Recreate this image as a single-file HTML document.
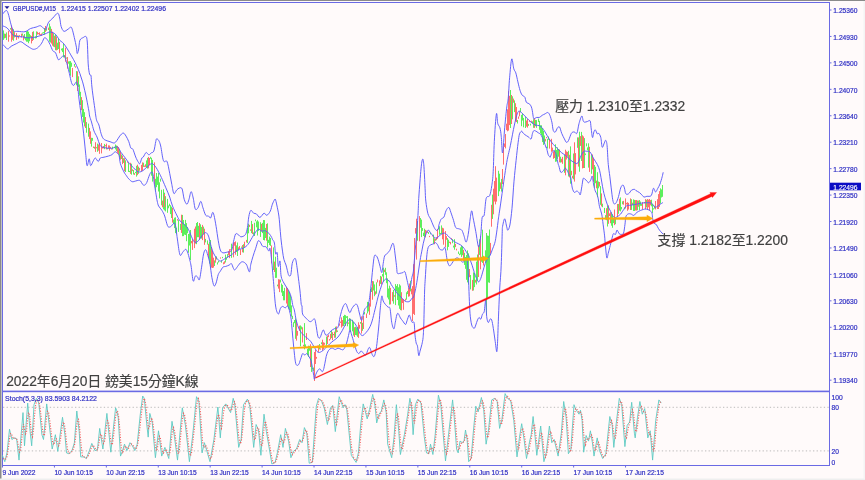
<!DOCTYPE html>
<html><head><meta charset="utf-8"><title>GBPUSD M15</title>
<style>html,body{margin:0;padding:0;background:#fffafa;}svg{display:block;}</style>
</head><body><svg width="865" height="480" viewBox="0 0 865 480"><style>.ax{font-family:"Liberation Sans",sans-serif;font-size:7.8px;fill:#3030c4;stroke:#3030c4;stroke-width:0.22px}</style><rect x="0" y="0" width="865" height="480" fill="#fffafa"/><rect x="0" y="0" width="865" height="1" fill="#8a8a8a"/><rect x="0" y="0" width="1.5" height="479" fill="#8a8a8a"/><rect x="0" y="478.5" width="865" height="1.5" fill="#efefef"/><rect x="863.5" y="1" width="1.5" height="478" fill="#f4f4f4"/><g><rect x="3" y="30.4" width="1" height="9.5" fill="#5cef5c"/><rect x="4" y="33.6" width="1" height="4.8" fill="#5cef5c"/><rect x="5" y="33.8" width="1" height="4.1" fill="#ff6e6e"/><rect x="6" y="32.4" width="1" height="7.6" fill="#5cef5c"/><rect x="8" y="30.8" width="1" height="10.9" fill="#ff6e6e"/><rect x="9" y="35.4" width="1" height="1.2" fill="#ff6e6e"/><rect x="10" y="28.0" width="1" height="1.6" fill="#5cef5c"/><rect x="11" y="26.8" width="1" height="14.2" fill="#5cef5c"/><rect x="12" y="28.6" width="1" height="11.2" fill="#ff6e6e"/><rect x="13" y="29.2" width="1" height="11.6" fill="#5cef5c"/><rect x="14" y="32.1" width="1" height="5.4" fill="#ff6e6e"/><rect x="15" y="35.1" width="1" height="1.7" fill="#5cef5c"/><rect x="16" y="33.1" width="1" height="6.8" fill="#ff6e6e"/><rect x="17" y="35.4" width="1" height="1.9" fill="#5cef5c"/><rect x="18" y="35.5" width="1" height="3.1" fill="#ff6e6e"/><rect x="19" y="35.1" width="1" height="1.2" fill="#ff6e6e"/><rect x="21" y="33.7" width="1" height="3.8" fill="#ff6e6e"/><rect x="22" y="33.5" width="1" height="2.2" fill="#5cef5c"/><rect x="23" y="35.5" width="1" height="4.9" fill="#ff6e6e"/><rect x="24" y="34.0" width="1" height="4.6" fill="#5cef5c"/><rect x="25" y="37.3" width="1" height="3.0" fill="#5cef5c"/><rect x="26" y="31.3" width="1" height="10.4" fill="#5cef5c"/><rect x="27" y="31.0" width="1" height="10.7" fill="#5cef5c"/><rect x="28" y="31.7" width="1" height="11.5" fill="#5cef5c"/><rect x="29" y="33.9" width="1" height="7.3" fill="#5cef5c"/><rect x="30" y="35.3" width="1" height="2.4" fill="#5cef5c"/><rect x="31" y="35.9" width="1" height="7.5" fill="#ff6e6e"/><rect x="32" y="31.9" width="1" height="9.1" fill="#ff6e6e"/><rect x="33" y="31.3" width="1" height="8.6" fill="#5cef5c"/><rect x="35" y="36.6" width="1" height="1.8" fill="#5cef5c"/><rect x="36" y="31.4" width="1" height="6.8" fill="#5cef5c"/><rect x="37" y="31.8" width="1" height="2.8" fill="#ff6e6e"/><rect x="38" y="33.0" width="1" height="1.2" fill="#ff6e6e"/><rect x="39" y="32.3" width="1" height="2.7" fill="#ff6e6e"/><rect x="40" y="34.2" width="1" height="1.2" fill="#ff6e6e"/><rect x="41" y="33.5" width="1" height="2.3" fill="#ff6e6e"/><rect x="42" y="32.5" width="1" height="1.2" fill="#5cef5c"/><rect x="43" y="32.1" width="1" height="1.2" fill="#5cef5c"/><rect x="44" y="28.0" width="1" height="6.7" fill="#5cef5c"/><rect x="45" y="26.0" width="1" height="5.9" fill="#ff6e6e"/><rect x="46" y="28.3" width="1" height="2.4" fill="#5cef5c"/><rect x="48" y="27.6" width="1" height="2.4" fill="#ff6e6e"/><rect x="49" y="24.4" width="1" height="4.9" fill="#ff6e6e"/><rect x="50" y="26.4" width="1" height="16.1" fill="#5cef5c"/><rect x="51" y="28.9" width="1" height="14.7" fill="#ff6e6e"/><rect x="52" y="31.7" width="1" height="14.0" fill="#ff6e6e"/><rect x="53" y="33.3" width="1" height="13.3" fill="#5cef5c"/><rect x="54" y="35.7" width="1" height="11.5" fill="#ff6e6e"/><rect x="55" y="34.2" width="1" height="16.0" fill="#5cef5c"/><rect x="56" y="36.5" width="1" height="13.9" fill="#ff6e6e"/><rect x="57" y="42.7" width="1" height="7.2" fill="#5cef5c"/><rect x="58" y="38.4" width="1" height="10.6" fill="#5cef5c"/><rect x="59" y="41.8" width="1" height="11.4" fill="#ff6e6e"/><rect x="61" y="48.6" width="1" height="1.8" fill="#5cef5c"/><rect x="62" y="48.2" width="1" height="3.9" fill="#5cef5c"/><rect x="63" y="43.4" width="1" height="14.0" fill="#5cef5c"/><rect x="64" y="55.1" width="1" height="2.2" fill="#5cef5c"/><rect x="65" y="47.7" width="1" height="14.0" fill="#ff6e6e"/><rect x="66" y="57.5" width="1" height="1.2" fill="#5cef5c"/><rect x="67" y="57.0" width="1" height="11.6" fill="#ff6e6e"/><rect x="68" y="61.4" width="1" height="2.3" fill="#5cef5c"/><rect x="69" y="61.2" width="1" height="11.2" fill="#5cef5c"/><rect x="70" y="61.1" width="1" height="14.6" fill="#5cef5c"/><rect x="71" y="62.7" width="1" height="4.1" fill="#5cef5c"/><rect x="72" y="68.0" width="1" height="9.1" fill="#ff6e6e"/><rect x="74" y="64.0" width="1" height="2.6" fill="#5cef5c"/><rect x="75" y="66.3" width="1" height="1.4" fill="#ff6e6e"/><rect x="76" y="71.1" width="1" height="14.2" fill="#5cef5c"/><rect x="77" y="71.3" width="1" height="19.7" fill="#ff6e6e"/><rect x="78" y="76.3" width="1" height="10.6" fill="#5cef5c"/><rect x="79" y="84.5" width="1" height="11.1" fill="#5cef5c"/><rect x="80" y="91.8" width="1" height="13.2" fill="#5cef5c"/><rect x="81" y="97.1" width="1" height="13.2" fill="#ff6e6e"/><rect x="82" y="100.2" width="1" height="16.7" fill="#5cef5c"/><rect x="83" y="108.9" width="1" height="13.6" fill="#5cef5c"/><rect x="84" y="112.2" width="1" height="14.2" fill="#5cef5c"/><rect x="85" y="117.0" width="1" height="11.0" fill="#ff6e6e"/><rect x="86" y="122.1" width="1" height="10.6" fill="#5cef5c"/><rect x="88" y="123.6" width="1" height="13.1" fill="#5cef5c"/><rect x="89" y="127.9" width="1" height="11.2" fill="#ff6e6e"/><rect x="90" y="131.4" width="1" height="12.4" fill="#ff6e6e"/><rect x="91" y="137.8" width="1" height="8.8" fill="#5cef5c"/><rect x="92" y="137.9" width="1" height="2.9" fill="#5cef5c"/><rect x="93" y="146.5" width="1" height="1.5" fill="#ff6e6e"/><rect x="94" y="146.8" width="1" height="1.9" fill="#5cef5c"/><rect x="95" y="142.2" width="1" height="9.7" fill="#ff6e6e"/><rect x="96" y="147.1" width="1" height="1.2" fill="#ff6e6e"/><rect x="97" y="143.6" width="1" height="8.2" fill="#5cef5c"/><rect x="98" y="144.4" width="1" height="6.3" fill="#ff6e6e"/><rect x="99" y="142.9" width="1" height="10.9" fill="#ff6e6e"/><rect x="101" y="143.0" width="1" height="10.4" fill="#ff6e6e"/><rect x="102" y="146.8" width="1" height="1.7" fill="#ff6e6e"/><rect x="103" y="146.0" width="1" height="2.4" fill="#ff6e6e"/><rect x="104" y="143.9" width="1" height="5.3" fill="#5cef5c"/><rect x="105" y="145.1" width="1" height="1.2" fill="#ff6e6e"/><rect x="106" y="143.6" width="1" height="5.8" fill="#ff6e6e"/><rect x="107" y="148.1" width="1" height="1.2" fill="#5cef5c"/><rect x="108" y="145.3" width="1" height="3.2" fill="#ff6e6e"/><rect x="109" y="145.5" width="1" height="5.2" fill="#ff6e6e"/><rect x="110" y="146.9" width="1" height="1.2" fill="#ff6e6e"/><rect x="111" y="148.4" width="1" height="1.2" fill="#ff6e6e"/><rect x="112" y="146.6" width="1" height="2.8" fill="#5cef5c"/><rect x="114" y="146.9" width="1" height="1.2" fill="#5cef5c"/><rect x="115" y="144.5" width="1" height="4.9" fill="#5cef5c"/><rect x="116" y="145.5" width="1" height="5.7" fill="#5cef5c"/><rect x="117" y="145.9" width="1" height="6.9" fill="#ff6e6e"/><rect x="118" y="147.0" width="1" height="7.5" fill="#ff6e6e"/><rect x="119" y="149.2" width="1" height="8.0" fill="#5cef5c"/><rect x="120" y="151.7" width="1" height="8.0" fill="#ff6e6e"/><rect x="121" y="154.5" width="1" height="4.5" fill="#5cef5c"/><rect x="122" y="155.6" width="1" height="8.5" fill="#ff6e6e"/><rect x="123" y="158.2" width="1" height="4.7" fill="#5cef5c"/><rect x="124" y="158.2" width="1" height="13.0" fill="#ff6e6e"/><rect x="125" y="160.3" width="1" height="11.7" fill="#5cef5c"/><rect x="127" y="161.5" width="1" height="1.2" fill="#ff6e6e"/><rect x="128" y="163.1" width="1" height="8.8" fill="#5cef5c"/><rect x="129" y="170.9" width="1" height="1.2" fill="#5cef5c"/><rect x="130" y="162.8" width="1" height="11.1" fill="#ff6e6e"/><rect x="131" y="163.7" width="1" height="11.0" fill="#5cef5c"/><rect x="132" y="169.3" width="1" height="1.8" fill="#ff6e6e"/><rect x="133" y="170.0" width="1" height="4.5" fill="#5cef5c"/><rect x="134" y="173.1" width="1" height="1.8" fill="#ff6e6e"/><rect x="135" y="171.9" width="1" height="1.2" fill="#5cef5c"/><rect x="136" y="165.8" width="1" height="10.8" fill="#5cef5c"/><rect x="137" y="164.7" width="1" height="10.5" fill="#ff6e6e"/><rect x="138" y="166.6" width="1" height="7.2" fill="#5cef5c"/><rect x="139" y="167.9" width="1" height="2.8" fill="#ff6e6e"/><rect x="141" y="164.9" width="1" height="6.4" fill="#ff6e6e"/><rect x="142" y="162.4" width="1" height="8.3" fill="#ff6e6e"/><rect x="143" y="162.7" width="1" height="4.2" fill="#5cef5c"/><rect x="144" y="165.6" width="1" height="1.3" fill="#ff6e6e"/><rect x="145" y="164.3" width="1" height="2.6" fill="#ff6e6e"/><rect x="146" y="160.4" width="1" height="7.3" fill="#5cef5c"/><rect x="147" y="157.9" width="1" height="10.7" fill="#5cef5c"/><rect x="148" y="156.9" width="1" height="11.4" fill="#ff6e6e"/><rect x="149" y="158.0" width="1" height="6.9" fill="#ff6e6e"/><rect x="150" y="156.8" width="1" height="2.0" fill="#5cef5c"/><rect x="151" y="157.8" width="1" height="17.9" fill="#5cef5c"/><rect x="152" y="159.9" width="1" height="21.7" fill="#5cef5c"/><rect x="154" y="162.3" width="1" height="22.5" fill="#ff6e6e"/><rect x="155" y="178.8" width="1" height="11.7" fill="#5cef5c"/><rect x="156" y="173.0" width="1" height="14.2" fill="#5cef5c"/><rect x="157" y="176.6" width="1" height="8.3" fill="#5cef5c"/><rect x="158" y="173.0" width="1" height="18.5" fill="#5cef5c"/><rect x="159" y="182.3" width="1" height="16.1" fill="#5cef5c"/><rect x="160" y="178.7" width="1" height="2.9" fill="#5cef5c"/><rect x="161" y="189.8" width="1" height="15.5" fill="#5cef5c"/><rect x="162" y="200.6" width="1" height="6.7" fill="#ff6e6e"/><rect x="163" y="189.2" width="1" height="20.1" fill="#5cef5c"/><rect x="164" y="192.7" width="1" height="17.7" fill="#5cef5c"/><rect x="165" y="196.2" width="1" height="15.2" fill="#5cef5c"/><rect x="167" y="198.9" width="1" height="13.9" fill="#5cef5c"/><rect x="168" y="205.5" width="1" height="2.8" fill="#5cef5c"/><rect x="169" y="203.7" width="1" height="2.5" fill="#5cef5c"/><rect x="170" y="205.2" width="1" height="8.9" fill="#5cef5c"/><rect x="171" y="206.7" width="1" height="11.3" fill="#5cef5c"/><rect x="172" y="207.9" width="1" height="14.7" fill="#ff6e6e"/><rect x="173" y="219.5" width="1" height="4.5" fill="#5cef5c"/><rect x="174" y="217.7" width="1" height="10.4" fill="#5cef5c"/><rect x="175" y="217.3" width="1" height="15.8" fill="#5cef5c"/><rect x="176" y="227.7" width="1" height="6.5" fill="#5cef5c"/><rect x="177" y="219.1" width="1" height="1.5" fill="#ff6e6e"/><rect x="178" y="220.1" width="1" height="11.8" fill="#5cef5c"/><rect x="180" y="223.9" width="1" height="6.0" fill="#5cef5c"/><rect x="181" y="214.7" width="1" height="18.2" fill="#ff6e6e"/><rect x="182" y="214.9" width="1" height="21.3" fill="#5cef5c"/><rect x="183" y="220.0" width="1" height="16.1" fill="#5cef5c"/><rect x="184" y="224.6" width="1" height="10.0" fill="#5cef5c"/><rect x="185" y="219.9" width="1" height="15.1" fill="#5cef5c"/><rect x="186" y="223.1" width="1" height="18.1" fill="#5cef5c"/><rect x="187" y="226.9" width="1" height="6.3" fill="#5cef5c"/><rect x="188" y="234.0" width="1" height="18.7" fill="#5cef5c"/><rect x="189" y="233.3" width="1" height="12.2" fill="#5cef5c"/><rect x="190" y="249.5" width="1" height="3.5" fill="#ff6e6e"/><rect x="191" y="241.0" width="1" height="2.3" fill="#ff6e6e"/><rect x="192" y="239.1" width="1" height="10.8" fill="#ff6e6e"/><rect x="194" y="228.7" width="1" height="19.4" fill="#ff6e6e"/><rect x="195" y="226.5" width="1" height="17.2" fill="#ff6e6e"/><rect x="196" y="223.0" width="1" height="21.2" fill="#5cef5c"/><rect x="197" y="222.0" width="1" height="15.2" fill="#5cef5c"/><rect x="198" y="225.8" width="1" height="11.4" fill="#5cef5c"/><rect x="199" y="223.0" width="1" height="16.6" fill="#ff6e6e"/><rect x="200" y="224.3" width="1" height="14.0" fill="#5cef5c"/><rect x="201" y="226.9" width="1" height="11.7" fill="#5cef5c"/><rect x="202" y="224.9" width="1" height="15.2" fill="#ff6e6e"/><rect x="203" y="226.6" width="1" height="7.9" fill="#5cef5c"/><rect x="204" y="228.7" width="1" height="16.1" fill="#ff6e6e"/><rect x="205" y="238.9" width="1" height="3.5" fill="#5cef5c"/><rect x="207" y="240.4" width="1" height="4.2" fill="#5cef5c"/><rect x="208" y="243.8" width="1" height="14.4" fill="#ff6e6e"/><rect x="209" y="241.8" width="1" height="21.9" fill="#5cef5c"/><rect x="210" y="240.0" width="1" height="28.0" fill="#5cef5c"/><rect x="211" y="247.0" width="1" height="20.6" fill="#ff6e6e"/><rect x="212" y="250.8" width="1" height="17.2" fill="#ff6e6e"/><rect x="213" y="257.7" width="1" height="9.9" fill="#ff6e6e"/><rect x="214" y="260.4" width="1" height="5.6" fill="#5cef5c"/><rect x="215" y="257.1" width="1" height="5.6" fill="#ff6e6e"/><rect x="216" y="256.4" width="1" height="3.1" fill="#5cef5c"/><rect x="217" y="262.3" width="1" height="2.2" fill="#5cef5c"/><rect x="218" y="260.8" width="1" height="1.7" fill="#5cef5c"/><rect x="220" y="257.4" width="1" height="1.2" fill="#ff6e6e"/><rect x="221" y="260.3" width="1" height="2.4" fill="#5cef5c"/><rect x="222" y="256.9" width="1" height="1.3" fill="#5cef5c"/><rect x="223" y="262.3" width="1" height="2.0" fill="#ff6e6e"/><rect x="224" y="261.2" width="1" height="2.6" fill="#ff6e6e"/><rect x="225" y="254.6" width="1" height="7.9" fill="#5cef5c"/><rect x="226" y="257.9" width="1" height="1.9" fill="#5cef5c"/><rect x="227" y="254.1" width="1" height="3.7" fill="#5cef5c"/><rect x="228" y="251.1" width="1" height="4.2" fill="#ff6e6e"/><rect x="229" y="249.2" width="1" height="8.9" fill="#ff6e6e"/><rect x="230" y="249.3" width="1" height="1.2" fill="#ff6e6e"/><rect x="231" y="243.7" width="1" height="14.1" fill="#5cef5c"/><rect x="233" y="242.9" width="1" height="14.4" fill="#ff6e6e"/><rect x="234" y="242.1" width="1" height="3.6" fill="#ff6e6e"/><rect x="235" y="241.4" width="1" height="13.3" fill="#ff6e6e"/><rect x="236" y="245.4" width="1" height="6.6" fill="#5cef5c"/><rect x="237" y="242.5" width="1" height="13.5" fill="#5cef5c"/><rect x="238" y="247.3" width="1" height="3.1" fill="#ff6e6e"/><rect x="239" y="246.0" width="1" height="3.0" fill="#ff6e6e"/><rect x="240" y="249.5" width="1" height="5.5" fill="#ff6e6e"/><rect x="241" y="246.6" width="1" height="1.2" fill="#5cef5c"/><rect x="242" y="245.0" width="1" height="7.3" fill="#ff6e6e"/><rect x="243" y="244.2" width="1" height="8.4" fill="#5cef5c"/><rect x="244" y="241.7" width="1" height="5.2" fill="#ff6e6e"/><rect x="246" y="239.9" width="1" height="2.6" fill="#ff6e6e"/><rect x="247" y="228.0" width="1" height="15.1" fill="#5cef5c"/><rect x="248" y="223.8" width="1" height="9.5" fill="#5cef5c"/><rect x="249" y="224.8" width="1" height="2.1" fill="#ff6e6e"/><rect x="250" y="229.4" width="1" height="1.4" fill="#ff6e6e"/><rect x="251" y="220.9" width="1" height="12.2" fill="#5cef5c"/><rect x="252" y="224.1" width="1" height="9.9" fill="#ff6e6e"/><rect x="253" y="232.4" width="1" height="2.3" fill="#5cef5c"/><rect x="254" y="222.8" width="1" height="13.2" fill="#5cef5c"/><rect x="255" y="219.5" width="1" height="1.7" fill="#5cef5c"/><rect x="256" y="221.4" width="1" height="5.9" fill="#5cef5c"/><rect x="257" y="220.2" width="1" height="15.3" fill="#5cef5c"/><rect x="258" y="221.5" width="1" height="9.4" fill="#5cef5c"/><rect x="260" y="222.2" width="1" height="14.7" fill="#5cef5c"/><rect x="261" y="223.9" width="1" height="7.6" fill="#ff6e6e"/><rect x="262" y="222.9" width="1" height="10.2" fill="#5cef5c"/><rect x="263" y="220.0" width="1" height="20.0" fill="#5cef5c"/><rect x="264" y="220.1" width="1" height="20.3" fill="#5cef5c"/><rect x="265" y="227.9" width="1" height="10.1" fill="#5cef5c"/><rect x="266" y="224.0" width="1" height="16.7" fill="#ff6e6e"/><rect x="267" y="223.3" width="1" height="24.2" fill="#5cef5c"/><rect x="268" y="239.8" width="1" height="3.1" fill="#5cef5c"/><rect x="269" y="236.6" width="1" height="8.5" fill="#5cef5c"/><rect x="270" y="237.9" width="1" height="8.0" fill="#5cef5c"/><rect x="271" y="245.4" width="1" height="18.0" fill="#ff6e6e"/><rect x="273" y="247.4" width="1" height="22.6" fill="#5cef5c"/><rect x="274" y="261.6" width="1" height="10.4" fill="#ff6e6e"/><rect x="275" y="256.7" width="1" height="21.2" fill="#5cef5c"/><rect x="276" y="267.7" width="1" height="10.1" fill="#5cef5c"/><rect x="277" y="284.6" width="1" height="1.7" fill="#5cef5c"/><rect x="278" y="279.2" width="1" height="9.4" fill="#ff6e6e"/><rect x="279" y="279.5" width="1" height="12.6" fill="#ff6e6e"/><rect x="280" y="279.6" width="1" height="2.9" fill="#5cef5c"/><rect x="281" y="283.5" width="1" height="9.0" fill="#5cef5c"/><rect x="282" y="284.9" width="1" height="11.1" fill="#5cef5c"/><rect x="283" y="291.0" width="1" height="9.3" fill="#5cef5c"/><rect x="284" y="287.8" width="1" height="12.5" fill="#5cef5c"/><rect x="286" y="286.8" width="1" height="16.7" fill="#ff6e6e"/><rect x="287" y="288.0" width="1" height="18.2" fill="#ff6e6e"/><rect x="288" y="290.2" width="1" height="18.4" fill="#5cef5c"/><rect x="289" y="292.5" width="1" height="17.7" fill="#5cef5c"/><rect x="290" y="295.4" width="1" height="17.0" fill="#5cef5c"/><rect x="291" y="305.4" width="1" height="11.2" fill="#5cef5c"/><rect x="292" y="315.8" width="1" height="3.3" fill="#5cef5c"/><rect x="293" y="322.2" width="1" height="4.9" fill="#5cef5c"/><rect x="294" y="320.0" width="1" height="3.2" fill="#5cef5c"/><rect x="295" y="318.3" width="1" height="20.5" fill="#5cef5c"/><rect x="296" y="320.5" width="1" height="20.1" fill="#ff6e6e"/><rect x="297" y="330.9" width="1" height="4.8" fill="#ff6e6e"/><rect x="299" y="325.7" width="1" height="5.1" fill="#ff6e6e"/><rect x="300" y="325.4" width="1" height="20.9" fill="#5cef5c"/><rect x="301" y="326.5" width="1" height="2.9" fill="#5cef5c"/><rect x="302" y="327.3" width="1" height="15.2" fill="#ff6e6e"/><rect x="303" y="344.8" width="1" height="1.5" fill="#ff6e6e"/><rect x="304" y="323.1" width="1" height="26.2" fill="#5cef5c"/><rect x="305" y="344.4" width="1" height="3.6" fill="#5cef5c"/><rect x="306" y="333.1" width="1" height="6.9" fill="#ff6e6e"/><rect x="307" y="348.8" width="1" height="6.5" fill="#5cef5c"/><rect x="308" y="345.7" width="1" height="11.2" fill="#5cef5c"/><rect x="309" y="345.9" width="1" height="4.8" fill="#5cef5c"/><rect x="310" y="344.2" width="1" height="22.8" fill="#ff6e6e"/><rect x="311" y="347.9" width="1" height="24.0" fill="#5cef5c"/><rect x="313" y="367.5" width="1" height="3.4" fill="#5cef5c"/><rect x="314" y="364.3" width="1" height="2.6" fill="#5cef5c"/><rect x="315" y="350.0" width="1" height="14.0" fill="#ff6e6e"/><rect x="316" y="356.9" width="1" height="1.8" fill="#ff6e6e"/><rect x="317" y="345.6" width="1" height="2.4" fill="#ff6e6e"/><rect x="318" y="345.4" width="1" height="6.5" fill="#ff6e6e"/><rect x="319" y="344.0" width="1" height="5.4" fill="#5cef5c"/><rect x="320" y="348.4" width="1" height="1.2" fill="#ff6e6e"/><rect x="321" y="342.3" width="1" height="1.9" fill="#5cef5c"/><rect x="322" y="339.7" width="1" height="10.7" fill="#ff6e6e"/><rect x="323" y="342.3" width="1" height="6.9" fill="#ff6e6e"/><rect x="324" y="342.8" width="1" height="2.0" fill="#ff6e6e"/><rect x="326" y="336.6" width="1" height="9.1" fill="#5cef5c"/><rect x="327" y="335.7" width="1" height="8.3" fill="#ff6e6e"/><rect x="328" y="334.6" width="1" height="2.5" fill="#ff6e6e"/><rect x="329" y="339.0" width="1" height="1.6" fill="#ff6e6e"/><rect x="330" y="333.8" width="1" height="5.6" fill="#ff6e6e"/><rect x="331" y="330.7" width="1" height="7.4" fill="#5cef5c"/><rect x="332" y="332.2" width="1" height="8.0" fill="#ff6e6e"/><rect x="333" y="334.0" width="1" height="1.2" fill="#5cef5c"/><rect x="334" y="331.7" width="1" height="6.1" fill="#ff6e6e"/><rect x="335" y="326.7" width="1" height="11.0" fill="#5cef5c"/><rect x="336" y="326.4" width="1" height="6.0" fill="#ff6e6e"/><rect x="337" y="330.5" width="1" height="1.4" fill="#5cef5c"/><rect x="339" y="323.5" width="1" height="2.2" fill="#ff6e6e"/><rect x="340" y="321.6" width="1" height="1.3" fill="#ff6e6e"/><rect x="341" y="317.4" width="1" height="10.2" fill="#ff6e6e"/><rect x="342" y="320.0" width="1" height="6.3" fill="#ff6e6e"/><rect x="343" y="316.0" width="1" height="10.0" fill="#5cef5c"/><rect x="344" y="314.8" width="1" height="9.5" fill="#5cef5c"/><rect x="345" y="315.2" width="1" height="10.8" fill="#5cef5c"/><rect x="346" y="316.3" width="1" height="1.6" fill="#5cef5c"/><rect x="347" y="316.1" width="1" height="10.2" fill="#5cef5c"/><rect x="348" y="322.5" width="1" height="1.3" fill="#ff6e6e"/><rect x="349" y="318.1" width="1" height="11.8" fill="#5cef5c"/><rect x="350" y="318.7" width="1" height="13.4" fill="#5cef5c"/><rect x="352" y="319.8" width="1" height="11.5" fill="#5cef5c"/><rect x="353" y="321.6" width="1" height="13.9" fill="#5cef5c"/><rect x="354" y="327.2" width="1" height="9.8" fill="#ff6e6e"/><rect x="355" y="326.7" width="1" height="8.3" fill="#5cef5c"/><rect x="356" y="327.4" width="1" height="8.0" fill="#5cef5c"/><rect x="357" y="327.2" width="1" height="9.6" fill="#5cef5c"/><rect x="358" y="322.3" width="1" height="15.6" fill="#ff6e6e"/><rect x="359" y="324.8" width="1" height="3.9" fill="#ff6e6e"/><rect x="360" y="322.0" width="1" height="1.7" fill="#5cef5c"/><rect x="361" y="316.4" width="1" height="17.1" fill="#ff6e6e"/><rect x="362" y="322.8" width="1" height="8.0" fill="#5cef5c"/><rect x="363" y="316.1" width="1" height="12.9" fill="#ff6e6e"/><rect x="364" y="312.0" width="1" height="2.4" fill="#5cef5c"/><rect x="366" y="313.5" width="1" height="4.5" fill="#ff6e6e"/><rect x="367" y="301.9" width="1" height="11.5" fill="#5cef5c"/><rect x="368" y="301.9" width="1" height="9.5" fill="#5cef5c"/><rect x="369" y="303.3" width="1" height="11.5" fill="#ff6e6e"/><rect x="370" y="288.8" width="1" height="17.8" fill="#ff6e6e"/><rect x="371" y="287.4" width="1" height="4.6" fill="#5cef5c"/><rect x="372" y="281.0" width="1" height="18.7" fill="#ff6e6e"/><rect x="373" y="281.3" width="1" height="9.2" fill="#5cef5c"/><rect x="374" y="284.4" width="1" height="11.8" fill="#5cef5c"/><rect x="375" y="291.4" width="1" height="3.2" fill="#ff6e6e"/><rect x="376" y="282.3" width="1" height="11.4" fill="#5cef5c"/><rect x="377" y="279.5" width="1" height="2.9" fill="#ff6e6e"/><rect x="379" y="280.3" width="1" height="5.8" fill="#ff6e6e"/><rect x="380" y="275.9" width="1" height="8.0" fill="#5cef5c"/><rect x="381" y="276.6" width="1" height="7.9" fill="#ff6e6e"/><rect x="382" y="274.1" width="1" height="2.4" fill="#5cef5c"/><rect x="383" y="267.6" width="1" height="14.3" fill="#5cef5c"/><rect x="384" y="269.6" width="1" height="2.5" fill="#ff6e6e"/><rect x="385" y="267.8" width="1" height="7.0" fill="#5cef5c"/><rect x="386" y="272.3" width="1" height="10.9" fill="#5cef5c"/><rect x="387" y="278.4" width="1" height="19.1" fill="#5cef5c"/><rect x="388" y="288.5" width="1" height="10.9" fill="#5cef5c"/><rect x="389" y="285.7" width="1" height="18.9" fill="#5cef5c"/><rect x="390" y="287.9" width="1" height="16.5" fill="#ff6e6e"/><rect x="392" y="292.1" width="1" height="9.1" fill="#ff6e6e"/><rect x="393" y="289.9" width="1" height="13.8" fill="#5cef5c"/><rect x="394" y="295.2" width="1" height="1.5" fill="#ff6e6e"/><rect x="395" y="284.1" width="1" height="21.0" fill="#5cef5c"/><rect x="396" y="285.9" width="1" height="5.4" fill="#5cef5c"/><rect x="397" y="284.1" width="1" height="15.9" fill="#5cef5c"/><rect x="398" y="287.3" width="1" height="18.2" fill="#5cef5c"/><rect x="399" y="284.3" width="1" height="24.5" fill="#5cef5c"/><rect x="400" y="285.5" width="1" height="24.6" fill="#5cef5c"/><rect x="401" y="292.2" width="1" height="18.2" fill="#ff6e6e"/><rect x="402" y="298.8" width="1" height="4.2" fill="#ff6e6e"/><rect x="403" y="299.4" width="1" height="10.4" fill="#ff6e6e"/><rect x="405" y="298.7" width="1" height="1.9" fill="#ff6e6e"/><rect x="406" y="292.3" width="1" height="7.3" fill="#5cef5c"/><rect x="407" y="290.9" width="1" height="3.2" fill="#5cef5c"/><rect x="408" y="287.4" width="1" height="9.3" fill="#ff6e6e"/><rect x="409" y="283.5" width="1" height="12.8" fill="#ff6e6e"/><rect x="410" y="280.8" width="1" height="10.6" fill="#5cef5c"/><rect x="411" y="288.7" width="1" height="5.6" fill="#ff6e6e"/><rect x="412" y="286.1" width="1" height="35.0" fill="#ff6e6e"/><rect x="413" y="264.2" width="1" height="49.7" fill="#ff6e6e"/><rect x="414" y="250.5" width="1" height="34.8" fill="#ff6e6e"/><rect x="415" y="228.1" width="1" height="5.5" fill="#ff6e6e"/><rect x="416" y="218.7" width="1" height="40.9" fill="#ff6e6e"/><rect x="417" y="221.2" width="1" height="19.5" fill="#5cef5c"/><rect x="419" y="216.1" width="1" height="25.2" fill="#ff6e6e"/><rect x="420" y="218.0" width="1" height="9.7" fill="#5cef5c"/><rect x="421" y="219.6" width="1" height="17.5" fill="#5cef5c"/><rect x="422" y="228.0" width="1" height="2.9" fill="#5cef5c"/><rect x="423" y="232.7" width="1" height="3.3" fill="#5cef5c"/><rect x="424" y="228.7" width="1" height="8.5" fill="#5cef5c"/><rect x="425" y="229.9" width="1" height="7.4" fill="#ff6e6e"/><rect x="426" y="230.6" width="1" height="1.2" fill="#ff6e6e"/><rect x="427" y="231.3" width="1" height="1.6" fill="#ff6e6e"/><rect x="428" y="232.1" width="1" height="1.9" fill="#5cef5c"/><rect x="429" y="235.9" width="1" height="1.2" fill="#ff6e6e"/><rect x="430" y="233.1" width="1" height="1.2" fill="#5cef5c"/><rect x="432" y="235.2" width="1" height="1.2" fill="#ff6e6e"/><rect x="433" y="234.6" width="1" height="9.3" fill="#5cef5c"/><rect x="434" y="238.3" width="1" height="5.9" fill="#ff6e6e"/><rect x="435" y="239.0" width="1" height="1.8" fill="#5cef5c"/><rect x="436" y="237.3" width="1" height="2.9" fill="#ff6e6e"/><rect x="437" y="228.9" width="1" height="9.9" fill="#ff6e6e"/><rect x="438" y="228.1" width="1" height="1.2" fill="#5cef5c"/><rect x="439" y="226.3" width="1" height="8.5" fill="#5cef5c"/><rect x="440" y="232.9" width="1" height="1.2" fill="#5cef5c"/><rect x="441" y="225.4" width="1" height="8.7" fill="#5cef5c"/><rect x="442" y="227.7" width="1" height="11.6" fill="#ff6e6e"/><rect x="443" y="228.3" width="1" height="16.4" fill="#ff6e6e"/><rect x="445" y="231.1" width="1" height="16.1" fill="#ff6e6e"/><rect x="446" y="236.1" width="1" height="3.7" fill="#ff6e6e"/><rect x="447" y="238.1" width="1" height="12.2" fill="#5cef5c"/><rect x="448" y="239.7" width="1" height="7.2" fill="#5cef5c"/><rect x="449" y="241.7" width="1" height="1.2" fill="#ff6e6e"/><rect x="450" y="241.9" width="1" height="2.5" fill="#ff6e6e"/><rect x="451" y="238.1" width="1" height="1.2" fill="#ff6e6e"/><rect x="452" y="239.1" width="1" height="4.1" fill="#5cef5c"/><rect x="453" y="245.6" width="1" height="1.9" fill="#5cef5c"/><rect x="454" y="239.2" width="1" height="10.5" fill="#5cef5c"/><rect x="455" y="243.9" width="1" height="3.2" fill="#ff6e6e"/><rect x="456" y="248.7" width="1" height="1.7" fill="#ff6e6e"/><rect x="458" y="251.5" width="1" height="2.4" fill="#5cef5c"/><rect x="459" y="253.6" width="1" height="1.6" fill="#5cef5c"/><rect x="460" y="247.4" width="1" height="7.2" fill="#5cef5c"/><rect x="461" y="245.9" width="1" height="11.0" fill="#5cef5c"/><rect x="462" y="246.3" width="1" height="8.9" fill="#5cef5c"/><rect x="463" y="249.9" width="1" height="11.3" fill="#ff6e6e"/><rect x="464" y="252.8" width="1" height="12.1" fill="#5cef5c"/><rect x="465" y="257.0" width="1" height="11.8" fill="#5cef5c"/><rect x="466" y="254.9" width="1" height="24.9" fill="#5cef5c"/><rect x="467" y="250.4" width="1" height="32.0" fill="#5cef5c"/><rect x="468" y="253.3" width="1" height="31.2" fill="#5cef5c"/><rect x="469" y="269.0" width="1" height="8.2" fill="#ff6e6e"/><rect x="470" y="275.0" width="1" height="14.4" fill="#5cef5c"/><rect x="472" y="279.9" width="1" height="10.9" fill="#ff6e6e"/><rect x="473" y="272.4" width="1" height="18.1" fill="#5cef5c"/><rect x="474" y="273.1" width="1" height="14.0" fill="#5cef5c"/><rect x="475" y="279.8" width="1" height="2.8" fill="#ff6e6e"/><rect x="476" y="261.6" width="1" height="22.9" fill="#5cef5c"/><rect x="477" y="254.5" width="1" height="26.4" fill="#5cef5c"/><rect x="478" y="245.3" width="1" height="31.7" fill="#ff6e6e"/><rect x="479" y="239.3" width="1" height="15.6" fill="#5cef5c"/><rect x="480" y="235.6" width="1" height="33.7" fill="#ff6e6e"/><rect x="481" y="256.8" width="1" height="4.9" fill="#5cef5c"/><rect x="482" y="229.7" width="1" height="33.2" fill="#5cef5c"/><rect x="483" y="257.1" width="1" height="8.4" fill="#ff6e6e"/><rect x="485" y="250.3" width="1" height="12.7" fill="#5cef5c"/><rect x="486" y="252.1" width="1" height="44.8" fill="#5cef5c"/><rect x="487" y="235.5" width="1" height="62.6" fill="#5cef5c"/><rect x="488" y="235.8" width="1" height="46.6" fill="#5cef5c"/><rect x="489" y="229.5" width="1" height="53.3" fill="#5cef5c"/><rect x="490" y="242.9" width="1" height="10.9" fill="#ff6e6e"/><rect x="491" y="204.8" width="1" height="21.9" fill="#ff6e6e"/><rect x="492" y="194.6" width="1" height="24.3" fill="#5cef5c"/><rect x="493" y="188.7" width="1" height="25.6" fill="#ff6e6e"/><rect x="494" y="181.0" width="1" height="20.5" fill="#ff6e6e"/><rect x="495" y="166.2" width="1" height="38.2" fill="#ff6e6e"/><rect x="496" y="177.6" width="1" height="24.0" fill="#ff6e6e"/><rect x="498" y="170.8" width="1" height="25.3" fill="#5cef5c"/><rect x="499" y="173.7" width="1" height="17.6" fill="#5cef5c"/><rect x="500" y="182.4" width="1" height="6.4" fill="#ff6e6e"/><rect x="501" y="178.9" width="1" height="12.7" fill="#5cef5c"/><rect x="502" y="169.0" width="1" height="15.1" fill="#ff6e6e"/><rect x="503" y="146.4" width="1" height="18.2" fill="#ff6e6e"/><rect x="504" y="143.5" width="1" height="3.4" fill="#ff6e6e"/><rect x="505" y="134.0" width="1" height="14.4" fill="#ff6e6e"/><rect x="506" y="123.7" width="1" height="6.4" fill="#ff6e6e"/><rect x="507" y="109.3" width="1" height="22.0" fill="#ff6e6e"/><rect x="508" y="90.9" width="1" height="39.7" fill="#ff6e6e"/><rect x="509" y="95.8" width="1" height="29.3" fill="#ff6e6e"/><rect x="511" y="95.0" width="1" height="29.0" fill="#ff6e6e"/><rect x="512" y="96.3" width="1" height="23.0" fill="#5cef5c"/><rect x="513" y="98.6" width="1" height="4.1" fill="#ff6e6e"/><rect x="514" y="100.4" width="1" height="11.7" fill="#5cef5c"/><rect x="515" y="103.2" width="1" height="18.3" fill="#ff6e6e"/><rect x="516" y="107.0" width="1" height="15.0" fill="#ff6e6e"/><rect x="517" y="120.0" width="1" height="3.5" fill="#5cef5c"/><rect x="518" y="116.5" width="1" height="2.3" fill="#ff6e6e"/><rect x="519" y="111.3" width="1" height="5.0" fill="#ff6e6e"/><rect x="520" y="108.0" width="1" height="4.3" fill="#5cef5c"/><rect x="521" y="114.9" width="1" height="11.3" fill="#5cef5c"/><rect x="522" y="113.3" width="1" height="7.2" fill="#5cef5c"/><rect x="523" y="117.9" width="1" height="9.4" fill="#5cef5c"/><rect x="525" y="116.9" width="1" height="11.1" fill="#5cef5c"/><rect x="526" y="120.5" width="1" height="6.1" fill="#ff6e6e"/><rect x="527" y="119.0" width="1" height="8.6" fill="#ff6e6e"/><rect x="528" y="123.9" width="1" height="2.0" fill="#5cef5c"/><rect x="529" y="120.5" width="1" height="1.3" fill="#ff6e6e"/><rect x="530" y="123.7" width="1" height="1.8" fill="#5cef5c"/><rect x="531" y="120.7" width="1" height="1.2" fill="#ff6e6e"/><rect x="532" y="121.3" width="1" height="2.3" fill="#5cef5c"/><rect x="533" y="119.2" width="1" height="8.6" fill="#5cef5c"/><rect x="534" y="118.2" width="1" height="9.7" fill="#ff6e6e"/><rect x="535" y="119.9" width="1" height="6.3" fill="#5cef5c"/><rect x="536" y="120.1" width="1" height="7.7" fill="#5cef5c"/><rect x="538" y="118.6" width="1" height="3.5" fill="#5cef5c"/><rect x="539" y="120.8" width="1" height="9.0" fill="#5cef5c"/><rect x="540" y="125.3" width="1" height="8.2" fill="#5cef5c"/><rect x="541" y="125.3" width="1" height="9.7" fill="#5cef5c"/><rect x="542" y="128.1" width="1" height="14.0" fill="#5cef5c"/><rect x="543" y="130.9" width="1" height="14.0" fill="#5cef5c"/><rect x="544" y="135.5" width="1" height="8.3" fill="#5cef5c"/><rect x="545" y="138.9" width="1" height="2.5" fill="#ff6e6e"/><rect x="546" y="137.0" width="1" height="1.2" fill="#ff6e6e"/><rect x="547" y="138.8" width="1" height="9.7" fill="#5cef5c"/><rect x="548" y="136.5" width="1" height="3.3" fill="#5cef5c"/><rect x="549" y="139.1" width="1" height="9.5" fill="#ff6e6e"/><rect x="551" y="138.8" width="1" height="13.0" fill="#ff6e6e"/><rect x="552" y="147.6" width="1" height="3.5" fill="#ff6e6e"/><rect x="553" y="151.4" width="1" height="7.4" fill="#ff6e6e"/><rect x="554" y="150.8" width="1" height="7.2" fill="#ff6e6e"/><rect x="555" y="144.3" width="1" height="17.5" fill="#5cef5c"/><rect x="556" y="149.9" width="1" height="11.6" fill="#5cef5c"/><rect x="557" y="147.4" width="1" height="11.5" fill="#5cef5c"/><rect x="558" y="149.1" width="1" height="7.6" fill="#5cef5c"/><rect x="559" y="149.5" width="1" height="12.8" fill="#ff6e6e"/><rect x="560" y="156.7" width="1" height="5.9" fill="#5cef5c"/><rect x="561" y="158.8" width="1" height="3.5" fill="#ff6e6e"/><rect x="562" y="156.9" width="1" height="6.9" fill="#ff6e6e"/><rect x="564" y="154.9" width="1" height="17.9" fill="#5cef5c"/><rect x="565" y="149.7" width="1" height="25.6" fill="#ff6e6e"/><rect x="566" y="151.4" width="1" height="8.1" fill="#ff6e6e"/><rect x="567" y="151.9" width="1" height="4.8" fill="#ff6e6e"/><rect x="568" y="150.8" width="1" height="25.7" fill="#5cef5c"/><rect x="569" y="154.8" width="1" height="22.6" fill="#ff6e6e"/><rect x="570" y="146.4" width="1" height="37.3" fill="#5cef5c"/><rect x="571" y="170.8" width="1" height="4.4" fill="#ff6e6e"/><rect x="572" y="175.8" width="1" height="2.5" fill="#ff6e6e"/><rect x="573" y="153.5" width="1" height="25.8" fill="#5cef5c"/><rect x="574" y="142.3" width="1" height="39.3" fill="#ff6e6e"/><rect x="575" y="153.1" width="1" height="21.3" fill="#ff6e6e"/><rect x="577" y="137.4" width="1" height="10.4" fill="#5cef5c"/><rect x="578" y="137.4" width="1" height="29.2" fill="#ff6e6e"/><rect x="579" y="131.7" width="1" height="40.0" fill="#5cef5c"/><rect x="580" y="136.1" width="1" height="9.8" fill="#ff6e6e"/><rect x="581" y="131.9" width="1" height="29.1" fill="#5cef5c"/><rect x="582" y="135.3" width="1" height="33.1" fill="#ff6e6e"/><rect x="583" y="136.4" width="1" height="31.6" fill="#ff6e6e"/><rect x="584" y="138.1" width="1" height="29.9" fill="#5cef5c"/><rect x="585" y="153.5" width="1" height="1.6" fill="#5cef5c"/><rect x="586" y="143.3" width="1" height="3.0" fill="#5cef5c"/><rect x="587" y="147.4" width="1" height="3.0" fill="#5cef5c"/><rect x="588" y="143.3" width="1" height="24.3" fill="#5cef5c"/><rect x="589" y="146.8" width="1" height="25.1" fill="#ff6e6e"/><rect x="591" y="155.1" width="1" height="18.7" fill="#5cef5c"/><rect x="592" y="154.5" width="1" height="14.9" fill="#ff6e6e"/><rect x="593" y="158.2" width="1" height="23.6" fill="#ff6e6e"/><rect x="594" y="165.0" width="1" height="22.6" fill="#5cef5c"/><rect x="595" y="166.8" width="1" height="16.4" fill="#5cef5c"/><rect x="596" y="180.6" width="1" height="7.7" fill="#ff6e6e"/><rect x="597" y="172.2" width="1" height="24.9" fill="#5cef5c"/><rect x="598" y="181.5" width="1" height="6.8" fill="#5cef5c"/><rect x="599" y="182.0" width="1" height="4.5" fill="#ff6e6e"/><rect x="600" y="186.1" width="1" height="18.7" fill="#5cef5c"/><rect x="601" y="193.4" width="1" height="13.0" fill="#ff6e6e"/><rect x="602" y="203.7" width="1" height="3.5" fill="#5cef5c"/><rect x="604" y="207.9" width="1" height="5.1" fill="#5cef5c"/><rect x="605" y="215.1" width="1" height="4.4" fill="#5cef5c"/><rect x="606" y="208.2" width="1" height="12.0" fill="#ff6e6e"/><rect x="607" y="205.7" width="1" height="20.8" fill="#5cef5c"/><rect x="608" y="205.4" width="1" height="18.4" fill="#ff6e6e"/><rect x="609" y="213.4" width="1" height="2.6" fill="#ff6e6e"/><rect x="610" y="212.2" width="1" height="11.0" fill="#ff6e6e"/><rect x="611" y="212.4" width="1" height="13.3" fill="#5cef5c"/><rect x="612" y="214.4" width="1" height="13.4" fill="#5cef5c"/><rect x="613" y="219.0" width="1" height="4.1" fill="#5cef5c"/><rect x="614" y="209.5" width="1" height="15.6" fill="#ff6e6e"/><rect x="615" y="219.0" width="1" height="5.2" fill="#5cef5c"/><rect x="617" y="204.0" width="1" height="12.4" fill="#ff6e6e"/><rect x="618" y="203.9" width="1" height="9.9" fill="#5cef5c"/><rect x="619" y="198.8" width="1" height="11.9" fill="#ff6e6e"/><rect x="620" y="197.4" width="1" height="14.0" fill="#5cef5c"/><rect x="621" y="207.0" width="1" height="2.4" fill="#5cef5c"/><rect x="622" y="201.3" width="1" height="3.0" fill="#5cef5c"/><rect x="623" y="200.9" width="1" height="3.8" fill="#ff6e6e"/><rect x="624" y="207.4" width="1" height="1.9" fill="#5cef5c"/><rect x="625" y="198.4" width="1" height="10.1" fill="#ff6e6e"/><rect x="626" y="202.9" width="1" height="1.5" fill="#ff6e6e"/><rect x="627" y="202.2" width="1" height="8.6" fill="#ff6e6e"/><rect x="628" y="202.9" width="1" height="6.6" fill="#ff6e6e"/><rect x="630" y="198.4" width="1" height="11.6" fill="#ff6e6e"/><rect x="631" y="199.2" width="1" height="10.7" fill="#5cef5c"/><rect x="632" y="202.7" width="1" height="2.1" fill="#ff6e6e"/><rect x="633" y="199.4" width="1" height="11.6" fill="#5cef5c"/><rect x="634" y="199.9" width="1" height="11.1" fill="#5cef5c"/><rect x="635" y="200.1" width="1" height="10.4" fill="#ff6e6e"/><rect x="636" y="200.0" width="1" height="10.6" fill="#ff6e6e"/><rect x="637" y="200.5" width="1" height="9.7" fill="#5cef5c"/><rect x="638" y="200.5" width="1" height="6.3" fill="#ff6e6e"/><rect x="639" y="200.0" width="1" height="10.0" fill="#5cef5c"/><rect x="640" y="201.5" width="1" height="4.3" fill="#5cef5c"/><rect x="641" y="204.0" width="1" height="1.8" fill="#5cef5c"/><rect x="642" y="202.1" width="1" height="7.2" fill="#ff6e6e"/><rect x="644" y="202.1" width="1" height="1.2" fill="#5cef5c"/><rect x="645" y="199.1" width="1" height="10.0" fill="#ff6e6e"/><rect x="646" y="199.8" width="1" height="7.6" fill="#5cef5c"/><rect x="647" y="199.0" width="1" height="10.7" fill="#ff6e6e"/><rect x="648" y="199.7" width="1" height="7.6" fill="#ff6e6e"/><rect x="649" y="199.0" width="1" height="11.6" fill="#ff6e6e"/><rect x="650" y="200.1" width="1" height="5.2" fill="#ff6e6e"/><rect x="651" y="199.7" width="1" height="6.6" fill="#5cef5c"/><rect x="652" y="203.7" width="1" height="9.2" fill="#5cef5c"/><rect x="653" y="208.3" width="1" height="1.2" fill="#5cef5c"/><rect x="654" y="205.7" width="1" height="2.9" fill="#5cef5c"/><rect x="655" y="201.0" width="1" height="8.4" fill="#ff6e6e"/><rect x="657" y="199.2" width="1" height="9.8" fill="#ff6e6e"/><rect x="658" y="194.1" width="1" height="14.9" fill="#ff6e6e"/><rect x="659" y="191.1" width="1" height="15.8" fill="#ff6e6e"/><rect x="660" y="188.3" width="1" height="15.3" fill="#5cef5c"/><rect x="661" y="189.4" width="1" height="8.1" fill="#5cef5c"/><rect x="662" y="185.0" width="1" height="11.8" fill="#5cef5c"/><rect x="314" y="352" width="1" height="29" fill="#ff6e6e"/><rect x="486" y="233" width="1" height="82" fill="#5cef5c"/><rect x="414" y="238" width="1" height="77" fill="#ff6e6e"/><rect x="510" y="90" width="1" height="38" fill="#5cef5c"/><rect x="190" y="230" width="1" height="30" fill="#5cef5c"/><rect x="11" y="25.7" width="1" height="16.000000000000004" fill="#ff6e6e"/><rect x="49" y="23.6" width="1" height="18.1" fill="#5cef5c"/><rect x="164" y="194" width="1" height="13" fill="#ff6e6e"/></g><path d="M2.8,13.9C3.4,13.3 5.3,10.4 6.2,10.4C7.2,10.4 7.6,11.9 8.3,13.9C9.0,15.9 9.7,19.6 10.4,22.2C11.1,24.8 11.9,27.7 12.5,29.2C13.1,30.7 13.0,30.9 13.9,31.3C14.8,31.7 16.1,31.2 18.0,31.3C19.9,31.4 22.9,32.2 25.0,31.7C27.1,31.2 28.8,29.3 30.6,28.5C32.5,27.7 34.5,27.6 36.1,27.1C37.7,26.6 39.1,25.6 40.3,25.7C41.4,25.8 42.1,27.2 43.0,27.8C43.9,28.4 44.9,30.1 45.8,29.2C46.7,28.3 47.4,24.0 48.6,22.2C49.8,20.4 51.3,19.6 52.8,18.1C54.3,16.6 56.5,13.2 57.6,13.2C58.8,13.2 59.1,15.8 59.7,18.0C60.3,20.2 60.4,24.2 61.1,26.4C61.8,28.6 62.8,30.8 63.9,31.3C65.0,31.8 66.8,29.9 68.0,29.2C69.2,28.5 70.1,27.1 70.8,27.1C71.5,27.1 71.6,27.5 72.2,29.2C72.8,30.9 73.6,34.5 74.3,37.5C75.0,40.5 75.9,44.5 76.4,47.2C76.9,49.9 76.8,53.0 77.1,53.5C77.4,54.0 78.0,52.2 78.5,50.0C79.0,47.8 79.1,42.4 79.9,40.3C80.7,38.2 82.4,38.1 83.3,37.5C84.2,36.9 84.8,36.3 85.4,36.4C86.0,36.5 86.5,36.6 86.8,38.2C87.1,39.8 87.3,41.5 87.5,45.8C87.7,50.1 87.9,59.1 88.2,63.9C88.5,68.7 89.1,72.3 89.6,74.3C90.1,76.3 90.7,74.0 91.0,75.7C91.3,77.4 91.4,81.4 91.7,84.7C92.0,88.0 92.5,92.3 93.0,95.8C93.5,99.3 93.9,102.2 94.4,105.6C94.9,109.0 95.4,113.5 95.8,116.0C96.2,118.5 96.3,119.3 96.8,120.8C97.3,122.3 98.2,122.9 98.9,125.0C99.6,127.1 100.3,131.1 101.0,133.3C101.7,135.5 102.2,137.0 103.0,138.2C103.8,139.4 104.6,139.7 105.8,140.3C107.0,140.9 108.6,141.2 110.0,141.7C111.4,142.1 113.0,143.2 114.2,143.0C115.4,142.8 116.1,141.5 117.0,140.3C117.9,139.2 118.7,137.3 119.7,136.1C120.7,134.9 122.2,133.0 123.2,133.0C124.2,133.0 125.1,134.7 126.0,136.1C126.9,137.5 128.0,139.7 128.8,141.7C129.6,143.7 130.1,146.6 130.8,147.9C131.5,149.2 132.1,147.8 132.9,149.3C133.7,150.8 134.8,154.8 135.7,157.0C136.6,159.2 137.8,161.4 138.5,162.5C139.2,163.6 139.3,164.3 139.9,163.6C140.5,162.8 141.3,159.1 141.9,158.0C142.5,156.9 142.6,157.9 143.3,157.0C144.0,156.1 145.2,152.8 146.1,152.5C147.0,152.2 148.1,154.8 148.9,154.9C149.7,155.0 150.2,153.6 151.0,153.0C151.8,152.4 152.9,153.0 153.8,151.1C154.6,149.2 155.3,143.4 155.8,141.4C156.3,139.4 156.0,139.1 156.5,138.9C157.0,138.7 157.9,139.1 158.6,140.3C159.3,141.5 159.9,142.6 160.7,146.0C161.5,149.4 162.4,158.2 163.5,160.8C164.6,163.4 166.0,159.4 167.0,161.5C168.0,163.6 168.9,169.5 169.7,173.3C170.5,177.1 171.1,181.0 171.8,184.4C172.5,187.8 173.1,192.6 173.9,193.5C174.7,194.4 175.8,190.9 176.7,190.0C177.6,189.1 178.5,188.2 179.4,188.0C180.3,187.8 181.3,187.0 182.1,188.9C182.9,190.8 183.4,196.8 184.2,199.3C185.0,201.9 186.1,204.2 186.9,204.2C187.7,204.2 188.3,201.4 189.0,199.3C189.7,197.2 190.4,191.9 191.1,191.7C191.8,191.5 192.5,195.1 193.2,198.0C193.9,200.9 194.5,207.4 195.3,209.0C196.1,210.6 197.1,209.0 198.0,207.7C198.9,206.4 200.0,201.4 200.8,201.4C201.6,201.4 202.1,205.4 202.9,207.7C203.7,210.0 204.8,213.9 205.7,215.3C206.6,216.7 207.7,215.6 208.5,216.0C209.3,216.4 209.9,218.6 210.6,218.0C211.3,217.4 212.0,212.9 212.6,212.5C213.2,212.1 213.4,213.0 214.0,215.3C214.6,217.6 215.4,222.2 216.1,226.4C216.8,230.6 217.5,236.4 218.2,240.3C218.9,244.2 219.5,247.9 220.3,250.0C221.1,252.1 221.8,252.5 223.0,252.8C224.2,253.2 225.8,252.4 227.2,252.1C228.6,251.8 230.3,252.4 231.4,250.7C232.5,249.0 232.8,244.5 233.5,241.7C234.2,238.9 234.8,235.2 235.6,234.0C236.4,232.8 237.4,234.2 238.3,234.7C239.2,235.2 239.9,236.8 241.1,236.8C242.3,236.8 244.2,236.2 245.3,234.7C246.4,233.2 246.8,230.8 247.4,227.8C248.0,224.8 248.2,219.6 248.8,216.7C249.3,213.8 250.0,211.0 250.8,210.4C251.6,209.8 252.7,212.6 253.6,213.2C254.5,213.8 255.3,213.2 256.4,213.9C257.4,214.6 258.6,217.5 259.9,217.4C261.2,217.3 262.9,213.5 264.0,213.2C265.1,212.8 265.8,215.7 266.8,215.3C267.9,215.0 269.4,212.9 270.3,211.1C271.2,209.2 271.7,206.0 272.4,204.2C273.1,202.3 273.9,200.8 274.4,200.0C274.9,199.2 275.0,198.6 275.4,199.4C275.8,200.2 276.2,202.2 276.8,205.0C277.4,207.8 278.3,211.7 278.9,216.1C279.5,220.5 279.9,227.4 280.3,231.4C280.7,235.4 280.7,236.7 281.1,240.0C281.5,243.3 282.0,247.9 282.5,251.1C283.0,254.3 283.3,257.1 283.9,259.4C284.5,261.7 285.4,263.1 286.0,265.0C286.6,266.9 286.9,268.9 287.4,270.6C287.9,272.3 288.2,274.7 288.8,275.4C289.3,276.1 290.2,276.7 290.8,274.7C291.4,272.7 291.6,266.3 292.2,263.6C292.8,260.9 293.7,259.4 294.3,258.8C294.9,258.1 295.2,257.9 295.7,259.4C296.2,260.9 296.6,264.6 297.1,267.8C297.6,271.1 298.0,275.2 298.5,278.9C299.0,282.6 299.4,285.8 299.9,290.0C300.4,294.2 300.9,301.4 301.2,304.1C301.6,306.8 301.8,304.4 302.0,306.0C302.2,307.6 301.9,312.0 302.6,314.0C303.3,316.0 304.8,316.9 306.1,318.2C307.4,319.5 308.9,321.6 310.3,321.7C311.7,321.8 313.5,318.5 314.4,318.9C315.3,319.2 315.2,320.9 315.8,323.8C316.4,326.7 317.2,334.0 317.9,336.3C318.6,338.6 319.3,338.4 320.0,337.7C320.7,337.0 321.5,333.4 322.1,332.1C322.7,330.8 322.9,329.5 323.5,330.0C324.1,330.5 324.8,334.2 325.6,334.9C326.4,335.6 327.4,334.9 328.3,334.2C329.2,333.5 330.1,331.6 331.1,330.7C332.2,329.8 333.5,329.2 334.6,328.6C335.8,328.0 337.1,329.2 338.0,327.2C338.9,325.3 339.3,320.2 340.1,316.8C340.9,313.4 342.0,309.3 342.9,307.1C343.8,304.9 344.9,303.4 345.7,303.6C346.5,303.8 347.1,307.0 347.8,308.5C348.5,310.0 349.2,312.7 349.9,312.7C350.6,312.7 351.0,309.9 351.9,308.5C352.8,307.1 354.5,304.8 355.4,304.3C356.3,303.8 356.8,304.1 357.5,305.7C358.2,307.3 358.9,311.6 359.6,314.0C360.3,316.4 360.9,321.0 361.7,320.3C362.5,319.6 363.5,312.2 364.4,309.9C365.3,307.6 366.5,307.3 367.2,306.4C367.9,305.5 368.0,307.3 368.6,304.3C369.2,301.3 370.0,294.7 370.7,288.6C371.4,282.5 372.2,273.1 372.8,267.8C373.4,262.5 373.7,258.8 374.2,256.7C374.7,254.6 375.0,255.1 375.6,255.3C376.2,255.5 376.9,256.4 377.6,258.0C378.3,259.6 379.0,262.6 379.7,265.0C380.4,267.4 381.2,272.8 381.8,272.6C382.4,272.4 382.7,266.4 383.2,263.6C383.7,260.8 384.0,257.6 384.6,256.0C385.2,254.4 386.0,254.6 386.7,253.9C387.4,253.2 388.2,252.5 388.8,251.8C389.3,251.1 389.5,251.1 390.1,249.7C390.7,248.3 391.9,244.2 392.5,243.5C393.1,242.8 393.4,243.5 393.9,245.6C394.4,247.7 394.8,252.3 395.3,256.0C395.8,259.7 396.4,264.9 396.7,267.8C397.0,270.7 396.8,272.4 397.4,273.3C398.0,274.2 399.2,273.4 400.1,273.3C401.0,273.2 402.1,272.8 402.9,272.6C403.7,272.4 404.3,270.6 405.0,271.9C405.7,273.2 406.4,277.5 407.1,280.3C407.8,283.1 408.6,287.7 409.2,288.6C409.8,289.5 410.2,287.7 410.6,285.8C411.1,283.9 411.4,279.8 411.9,277.5C412.3,275.2 412.8,275.5 413.3,271.9C413.8,268.3 414.1,262.7 414.7,256.0C415.3,249.3 416.2,239.2 416.8,231.7C417.4,224.2 417.9,216.8 418.2,210.8C418.5,204.9 418.4,203.0 418.9,196.0C419.4,189.0 420.4,175.0 421.0,168.9C421.6,162.8 422.1,159.9 422.6,159.2C423.1,158.5 423.3,159.8 423.8,164.7C424.2,169.5 424.8,182.2 425.1,188.3C425.4,194.4 425.3,196.9 425.8,201.1C426.3,205.3 427.1,210.6 427.9,213.6C428.7,216.6 429.8,217.1 430.7,219.2C431.6,221.3 432.6,224.2 433.5,226.1C434.4,227.9 435.4,229.8 436.2,230.3C437.1,230.8 437.8,229.8 438.3,228.9C438.8,228.0 438.5,226.3 439.0,224.7C439.5,223.1 440.3,220.5 441.1,219.2C441.9,217.9 443.1,218.5 443.9,217.1C444.7,215.7 445.2,212.4 446.0,210.8C446.8,209.2 447.9,207.2 448.8,207.4C449.6,207.6 450.0,210.0 450.8,212.2C451.6,214.4 452.8,218.0 453.6,220.6C454.4,223.2 454.8,226.1 455.7,227.5C456.6,228.9 458.2,228.4 459.2,228.9C460.2,229.4 461.1,229.2 461.9,230.3C462.7,231.5 463.3,233.8 464.0,235.8C464.7,237.8 465.4,242.3 466.1,242.1C466.8,241.9 467.5,238.4 468.2,234.4C468.9,230.4 469.7,221.7 470.3,217.8C470.9,213.9 471.2,210.8 471.7,210.8C472.2,210.8 472.4,214.3 473.1,217.8C473.8,221.3 474.9,226.8 475.8,231.7C476.7,236.5 477.8,246.2 478.6,246.9C479.4,247.6 480.1,240.7 480.7,235.8C481.3,231.0 481.5,221.3 482.1,217.8C482.7,214.3 483.5,218.2 484.2,215.0C484.9,211.8 485.3,201.5 486.2,198.3C487.2,195.1 488.8,197.7 489.7,195.6C490.6,193.5 491.2,189.6 491.8,185.6C492.4,181.6 492.8,179.0 493.2,171.7C493.6,164.4 493.8,151.3 494.3,141.7C494.8,132.1 495.8,116.9 496.4,113.9C497.0,110.9 497.2,121.3 497.8,123.6C498.4,125.9 499.3,125.7 499.9,127.8C500.5,129.9 500.8,131.9 501.2,136.1C501.7,140.3 502.0,154.2 502.6,152.8C503.2,151.4 504.0,135.4 504.7,127.8C505.4,120.1 506.2,111.8 506.8,106.9C507.4,102.0 507.7,103.4 508.2,98.6C508.7,93.8 509.0,84.4 509.6,77.8C510.2,71.2 511.0,60.5 511.7,59.0C512.4,57.5 513.1,66.4 513.8,68.8C514.4,71.1 515.1,70.7 515.8,72.9C516.5,75.1 517.2,79.0 517.9,81.9C518.6,84.8 519.3,88.1 520.0,90.3C520.7,92.5 521.3,93.9 522.1,95.1C522.9,96.2 524.2,96.0 524.9,97.2C525.6,98.4 525.5,100.9 526.2,102.1C527.0,103.3 528.8,103.2 529.7,104.2C530.6,105.2 531.2,106.2 531.8,108.3C532.4,110.4 532.9,115.0 533.2,116.7C533.6,118.4 533.3,118.6 533.9,118.8C534.5,118.9 535.8,117.6 536.7,117.4C537.6,117.2 538.5,117.8 539.4,117.4C540.3,117.1 541.3,115.9 542.2,115.3C543.1,114.7 544.1,114.4 545.0,113.9C545.9,113.4 547.0,112.3 547.8,112.5C548.6,112.7 549.2,113.7 549.9,115.3C550.6,116.9 551.3,119.7 551.9,122.2C552.5,124.8 552.7,129.0 553.3,130.6C553.9,132.2 554.7,132.4 555.4,131.9C556.1,131.4 556.8,128.6 557.5,127.8C558.2,127.0 558.9,126.2 559.6,127.1C560.3,128.0 560.9,131.3 561.7,133.3C562.5,135.3 563.6,137.4 564.4,138.9C565.2,140.4 565.8,142.2 566.5,142.4C567.2,142.6 567.8,141.8 568.6,140.3C569.4,138.8 570.5,134.7 571.4,133.3C572.3,131.9 573.3,131.9 574.2,131.9C575.1,131.9 576.1,134.7 576.9,133.3C577.7,131.9 578.2,126.5 579.0,123.6C579.8,120.7 581.1,116.5 581.8,116.0C582.5,115.5 582.7,119.8 583.2,120.8C583.7,121.8 583.9,122.1 584.6,122.2C585.3,122.3 586.5,121.7 587.4,121.5C588.3,121.3 589.5,119.8 590.1,120.8C590.7,121.8 590.7,125.0 591.1,127.8C591.5,130.6 592.0,136.8 592.5,137.5C593.0,138.2 593.4,133.2 593.9,131.9C594.4,130.6 594.7,129.6 595.3,129.9C595.9,130.2 596.8,133.4 597.4,134.0C598.0,134.6 598.2,132.7 598.8,133.3C599.3,133.9 600.2,135.2 600.8,137.5C601.4,139.8 601.6,146.3 602.2,147.2C602.8,148.1 603.7,144.2 604.3,143.0C604.9,141.8 605.2,139.8 605.7,140.3C606.2,140.8 606.7,141.8 607.1,145.8C607.5,149.9 607.8,159.5 608.3,164.6C608.8,169.7 609.3,172.3 609.8,176.2C610.3,180.1 610.7,184.0 611.2,187.9C611.7,191.8 612.2,196.9 612.7,199.6C613.2,202.3 613.6,203.4 614.2,203.9C614.8,204.4 615.6,203.7 616.3,202.5C617.0,201.3 617.8,199.0 618.5,196.6C619.2,194.2 620.0,189.8 620.7,187.9C621.4,186.0 622.3,185.0 622.9,185.0C623.5,185.0 623.9,186.5 624.4,187.9C624.9,189.3 625.1,192.7 625.8,193.7C626.5,194.7 627.7,194.3 628.7,193.7C629.7,193.1 630.6,190.8 631.6,190.1C632.6,189.4 633.9,189.3 634.6,189.4C635.3,189.5 635.1,189.9 635.9,190.5C636.7,191.1 638.5,191.8 639.6,192.7C640.7,193.5 641.8,194.9 642.5,195.6C643.2,196.3 643.3,197.0 644.0,197.1C644.7,197.2 645.7,196.6 646.9,196.3C648.1,196.1 650.1,196.9 651.2,195.6C652.3,194.3 652.7,188.9 653.4,188.3C654.1,187.7 654.9,192.0 655.6,192.0C656.3,192.0 657.1,189.6 657.8,188.3C658.5,187.0 659.3,185.9 660.0,184.0C660.7,182.1 661.7,178.6 662.2,176.7C662.7,174.8 663.0,173.0 663.2,172.3" fill="none" stroke="#5a5afa" stroke-width="0.95" stroke-linejoin="round"/><path d="M2.4,25.7C3.1,26.1 5.6,26.8 6.9,27.8C8.2,28.8 9.5,30.8 10.4,31.9C11.3,33.0 11.4,34.0 12.5,34.7C13.6,35.5 15.1,36.0 16.7,36.4C18.3,36.8 20.3,36.6 22.2,36.8C24.1,37.0 26.0,37.7 27.8,37.8C29.6,37.9 31.4,37.8 33.3,37.5C35.1,37.2 37.3,36.6 38.9,36.1C40.5,35.6 41.7,35.2 43.0,34.7C44.3,34.2 45.3,33.8 46.5,33.3C47.7,32.8 48.7,31.9 50.0,31.9C51.3,31.9 53.1,32.6 54.2,33.3C55.4,34.0 56.0,34.9 56.9,36.1C57.8,37.3 58.8,39.2 59.7,40.3C60.6,41.3 61.6,41.5 62.5,42.4C63.4,43.3 64.4,44.5 65.3,45.8C66.2,47.1 67.1,48.5 68.0,50.0C68.9,51.5 69.9,53.3 70.8,54.9C71.7,56.5 72.7,58.0 73.6,59.7C74.5,61.4 75.4,63.0 76.4,65.3C77.5,67.6 78.9,70.8 79.9,73.6C80.9,76.4 81.8,79.1 82.6,81.9C83.4,84.7 84.0,87.3 84.7,90.3C85.4,93.3 86.1,96.5 86.8,100.0C87.5,103.5 88.4,108.4 88.9,111.1C89.4,113.8 89.2,114.2 89.6,116.0C90.0,117.8 90.8,119.5 91.5,122.0C92.2,124.5 93.1,128.5 94.0,131.0C94.9,133.5 96.0,134.6 97.0,137.0C98.0,139.4 99.1,143.8 100.3,145.6C101.5,147.4 102.6,147.1 104.4,147.6C106.2,148.1 109.5,148.4 111.4,148.3C113.3,148.2 114.4,147.1 115.6,147.0C116.8,146.9 117.4,146.7 118.3,147.6C119.2,148.5 119.9,150.8 121.1,152.5C122.3,154.2 123.9,156.2 125.3,158.0C126.7,159.8 128.0,162.0 129.4,163.6C130.8,165.2 132.2,166.5 133.6,167.8C135.0,169.2 136.4,171.1 137.8,171.7C139.2,172.3 140.5,171.9 141.9,171.2C143.3,170.6 144.7,169.0 146.1,167.8C147.5,166.6 149.2,165.0 150.3,164.3C151.4,163.6 151.5,163.1 152.4,163.6C153.3,164.1 154.8,165.7 155.8,167.1C156.8,168.5 157.7,170.2 158.6,171.9C159.5,173.6 160.2,174.9 161.4,177.5C162.6,180.1 164.2,183.9 165.6,187.2C167.0,190.4 168.5,193.9 169.7,197.0C170.8,200.1 171.2,202.8 172.5,206.0C173.8,209.2 175.9,213.5 177.2,216.0C178.4,218.5 178.8,219.5 180.0,220.9C181.2,222.3 182.8,222.9 184.2,224.3C185.6,225.7 186.9,226.8 188.3,229.2C189.7,231.6 191.3,236.7 192.5,238.9C193.7,241.1 194.3,242.2 195.3,242.4C196.3,242.6 197.6,241.5 198.8,240.3C199.9,239.1 201.0,236.7 202.2,235.4C203.4,234.1 204.6,232.5 205.7,232.6C206.8,232.7 207.7,234.1 208.5,236.1C209.3,238.1 209.8,241.6 210.6,244.4C211.4,247.2 212.3,250.5 213.3,252.8C214.3,255.1 215.6,256.9 216.8,258.3C218.0,259.7 219.0,261.0 220.3,261.1C221.6,261.2 223.1,259.7 224.4,259.0C225.7,258.3 226.7,257.6 227.9,256.9C229.1,256.2 230.1,255.8 231.4,254.9C232.7,254.0 234.2,252.3 235.6,251.4C237.0,250.5 238.3,249.9 239.7,249.3C241.1,248.7 242.5,248.7 243.9,247.9C245.3,247.1 246.6,246.1 248.0,244.4C249.4,242.7 250.9,239.6 252.2,237.5C253.5,235.4 254.6,233.3 255.7,231.9C256.8,230.5 257.5,229.3 258.5,229.2C259.5,229.1 260.9,231.0 261.9,231.2C262.9,231.5 263.5,230.3 264.7,230.6C265.9,230.9 267.7,232.2 268.9,233.3C270.1,234.5 271.1,236.4 271.7,237.5C272.3,238.6 272.2,238.8 272.6,239.7C273.1,240.6 273.9,240.6 274.4,243.0C274.9,245.4 275.1,252.3 275.6,253.9C276.1,255.5 276.8,250.7 277.2,252.8C277.6,254.9 277.8,265.0 278.3,266.4C278.8,267.8 279.5,259.5 280.0,261.1C280.5,262.7 280.5,272.5 281.1,276.1C281.8,279.8 282.8,280.9 283.9,283.0C284.9,285.1 286.5,287.1 287.4,288.6C288.3,290.1 288.7,290.4 289.4,292.0C290.1,293.6 290.9,296.0 291.5,298.3C292.1,300.6 292.4,304.1 292.9,306.0C293.4,307.9 293.7,307.4 294.3,309.9C294.9,312.4 295.6,317.8 296.4,321.0C297.2,324.2 298.0,327.0 299.2,329.3C300.4,331.6 301.9,333.4 303.3,334.9C304.7,336.4 306.2,337.2 307.5,338.4C308.8,339.5 309.9,340.3 311.0,341.8C312.1,343.3 313.2,345.7 314.4,347.4C315.5,349.1 316.7,351.6 317.9,352.2C319.1,352.9 320.1,352.3 321.4,351.6C322.7,350.9 324.2,349.4 325.6,348.1C327.0,346.8 328.3,345.2 329.7,343.9C331.1,342.6 332.5,341.5 333.9,340.4C335.3,339.2 336.6,338.6 338.0,337.0C339.4,335.4 340.9,332.9 342.2,330.7C343.5,328.5 344.5,325.6 345.7,323.8C346.9,322.0 347.9,320.0 349.2,319.6C350.5,319.2 352.0,320.5 353.3,321.7C354.6,322.9 355.8,324.8 356.8,326.6C357.9,328.5 358.7,331.3 359.6,332.8C360.5,334.3 361.4,335.6 362.4,335.6C363.4,335.6 364.6,334.1 365.8,332.8C367.0,331.5 368.2,330.0 369.3,328.0C370.4,326.0 371.2,324.0 372.1,321.0C373.0,318.0 374.1,313.1 374.9,309.9C375.7,306.7 376.3,303.9 376.9,301.6C377.5,299.3 377.4,299.1 378.3,296.0C379.2,292.9 381.2,285.9 382.5,283.0C383.8,280.1 385.1,279.3 386.0,278.9C386.9,278.4 387.3,279.8 388.0,280.3C388.7,280.8 389.5,281.0 390.0,281.7C390.5,282.4 390.5,283.2 391.1,284.4C391.8,285.5 393.0,287.2 393.9,288.6C394.8,290.0 395.8,291.6 396.7,292.8C397.6,294.0 398.5,294.7 399.4,295.6C400.3,296.5 401.3,297.4 402.2,298.3C403.1,299.2 404.1,300.5 405.0,301.1C405.9,301.7 407.0,301.8 407.8,301.8C408.6,301.8 409.2,301.7 409.9,301.1C410.6,300.5 411.3,299.0 411.9,298.3C412.5,297.6 412.9,298.8 413.5,297.2C414.1,295.6 415.0,292.1 415.7,288.5C416.4,284.9 417.2,280.0 417.9,275.4C418.6,270.8 419.3,265.2 420.0,260.8C420.7,256.4 421.5,252.8 422.2,249.1C422.9,245.4 423.4,242.0 424.4,238.9C425.3,235.8 426.8,231.3 427.9,230.3C428.9,229.3 429.6,231.9 430.7,233.1C431.8,234.2 433.2,236.4 434.2,237.2C435.2,238.0 435.8,238.4 436.9,237.9C438.0,237.4 439.8,235.2 441.1,234.4C442.4,233.6 443.5,232.9 444.6,233.1C445.8,233.3 446.7,234.7 448.0,235.8C449.3,237.0 450.8,238.8 452.2,240.0C453.6,241.2 455.0,242.0 456.4,242.8C457.8,243.6 459.3,244.0 460.6,244.9C461.9,245.8 462.9,246.8 464.0,248.3C465.1,249.8 466.7,252.6 467.5,253.9C468.3,255.2 468.5,255.1 468.9,256.0C469.3,256.9 469.4,257.8 469.9,259.3C470.4,260.8 471.4,263.0 472.1,265.2C472.8,267.4 473.6,270.3 474.3,272.5C475.0,274.7 475.8,276.7 476.5,278.3C477.2,279.9 477.9,281.9 478.6,281.9C479.3,281.9 480.1,280.1 480.8,278.3C481.5,276.5 482.3,273.4 483.0,271.0C483.7,268.6 484.3,265.9 485.2,263.7C486.1,261.5 487.2,259.3 488.1,257.9C489.0,256.4 489.6,256.5 490.3,255.0C491.0,253.5 491.8,251.0 492.5,249.1C493.2,247.2 494.1,245.5 494.7,243.3C495.3,241.1 495.6,239.6 496.1,236.0C496.7,232.4 497.4,226.6 498.0,221.9C498.6,217.2 498.6,217.3 500.0,208.0C501.4,198.7 504.4,176.4 506.1,166.0C507.8,155.6 508.9,152.6 510.3,145.8C511.7,139.0 513.2,130.3 514.4,125.0C515.5,119.7 516.4,116.2 517.2,113.9C518.0,111.6 518.4,111.1 519.3,111.1C520.2,111.1 521.5,112.7 522.8,113.9C524.1,115.1 525.5,116.7 526.9,118.1C528.3,119.5 529.7,121.0 531.1,122.2C532.5,123.4 533.9,124.4 535.3,125.0C536.7,125.6 538.2,125.2 539.4,125.7C540.5,126.2 541.3,126.8 542.2,127.8C543.1,128.8 543.8,130.1 545.0,131.9C546.2,133.8 547.8,136.8 549.2,138.9C550.6,141.0 551.9,142.8 553.3,144.4C554.7,146.0 556.1,147.2 557.5,148.6C558.9,150.0 560.3,151.6 561.7,152.8C563.1,154.0 564.4,154.4 565.8,155.6C567.2,156.8 568.6,158.5 570.0,159.7C571.4,160.8 572.9,161.9 574.2,162.5C575.5,163.1 576.5,164.3 577.6,163.2C578.8,162.0 580.1,157.6 581.1,155.6C582.1,153.6 582.9,152.1 583.9,151.4C584.9,150.7 586.4,151.3 587.4,151.4C588.4,151.5 589.0,150.9 590.1,152.1C591.2,153.3 592.5,156.6 593.7,158.7C594.9,160.8 596.4,162.6 597.4,164.6C598.4,166.6 599.0,168.2 599.6,170.4C600.2,172.6 600.5,175.0 601.0,177.7C601.5,180.4 602.0,183.7 602.5,186.4C603.0,189.1 603.4,191.3 604.0,193.7C604.6,196.1 605.4,198.8 606.1,201.0C606.8,203.2 607.6,205.2 608.3,206.9C609.0,208.6 609.8,209.8 610.5,211.2C611.2,212.6 612.0,214.5 612.7,215.6C613.4,216.7 613.8,217.3 614.5,217.5C615.2,217.7 616.0,217.5 617.0,216.9C618.0,216.3 619.6,215.2 620.7,214.0C621.8,212.8 622.6,210.9 623.6,209.6C624.6,208.2 625.3,206.6 626.5,205.9C627.7,205.2 628.9,205.5 630.9,205.2C632.9,204.8 636.0,204.2 638.2,203.8C640.4,203.4 642.0,203.0 644.0,202.8C646.0,202.7 649.0,202.6 650.5,202.9C652.0,203.2 652.0,203.7 652.7,204.4C653.4,205.1 654.2,207.0 654.9,207.3C655.6,207.7 656.2,207.0 657.1,206.5C658.0,206.0 659.0,205.1 660.0,204.4C661.0,203.7 662.5,202.8 663.0,202.5" fill="none" stroke="#5a5afa" stroke-width="0.95" stroke-linejoin="round"/><path d="M2.8,44.4C3.6,45.1 6.2,48.6 7.6,48.9C9.0,49.2 9.6,47.2 11.1,46.3C12.6,45.4 15.1,44.3 16.7,43.5C18.3,42.7 19.4,41.6 20.8,41.7C22.2,41.9 23.6,43.5 25.0,44.4C26.4,45.3 27.8,46.4 29.2,47.2C30.6,48.0 31.9,49.2 33.3,49.3C34.7,49.4 36.1,48.9 37.5,47.9C38.9,46.9 40.6,44.8 41.7,43.1C42.9,41.4 43.5,38.4 44.4,37.8C45.3,37.2 46.3,38.5 47.2,39.6C48.1,40.7 49.1,42.5 50.0,44.4C50.9,46.2 51.9,49.3 52.8,50.7C53.7,52.1 54.7,51.3 55.6,52.8C56.5,54.3 57.4,58.9 58.3,59.7C59.2,60.5 60.2,58.3 61.1,57.6C62.0,56.9 63.2,55.5 63.9,55.6C64.6,55.7 64.7,56.7 65.3,58.3C65.9,59.9 66.7,62.8 67.4,65.3C68.1,67.8 68.7,70.7 69.4,73.6C70.1,76.5 70.8,80.6 71.5,82.6C72.2,84.6 72.8,85.5 73.6,85.4C74.4,85.3 75.7,81.8 76.4,81.9C77.1,82.0 77.5,84.0 77.8,86.1C78.1,88.2 78.2,91.2 78.5,94.4C78.8,97.7 79.4,102.0 79.9,105.6C80.4,109.2 80.8,112.3 81.3,116.0C81.8,119.7 82.5,124.0 83.0,128.0C83.5,132.0 83.8,135.7 84.3,140.0C84.8,144.3 85.2,149.6 85.7,153.9C86.2,158.2 86.5,164.9 87.1,165.7C87.7,166.5 88.6,158.8 89.2,158.8C89.8,158.8 89.9,165.4 90.6,165.7C91.3,166.0 92.5,162.1 93.3,160.8C94.1,159.5 94.6,157.9 95.4,158.0C96.2,158.1 97.4,161.5 98.2,161.5C99.0,161.5 99.5,158.7 100.3,158.0C101.1,157.3 101.6,157.7 103.0,157.4C104.4,157.1 107.1,156.5 108.6,156.0C110.1,155.5 111.0,155.3 112.1,154.6C113.1,153.9 114.1,152.1 114.9,151.8C115.7,151.5 116.3,152.4 117.0,153.0C117.7,153.6 118.4,153.5 119.0,155.3C119.6,157.1 119.6,160.8 120.4,163.6C121.2,166.4 122.9,169.8 123.9,171.9C125.0,174.0 125.9,174.9 126.7,176.1C127.5,177.3 127.8,178.0 128.8,178.9C129.7,179.8 131.0,181.3 132.2,181.7C133.4,182.0 134.6,181.2 135.7,181.0C136.8,180.8 137.7,180.3 138.5,180.3C139.3,180.3 139.9,180.3 140.6,181.0C141.3,181.7 141.9,183.7 142.6,184.4C143.3,185.1 144.0,185.4 144.7,185.1C145.4,184.8 146.0,184.1 146.8,182.4C147.6,180.7 148.8,176.4 149.6,174.7C150.4,172.9 151.1,171.9 151.7,171.9C152.3,171.9 152.6,172.6 153.1,174.7C153.6,176.8 153.9,181.4 154.4,184.4C154.9,187.4 155.3,190.0 155.8,192.8C156.3,195.6 156.7,198.9 157.2,201.1C157.7,203.3 157.8,204.4 158.6,206.0C159.4,207.6 160.9,208.7 161.9,210.4C162.9,212.1 163.8,213.4 164.7,216.0C165.6,218.6 166.7,223.8 167.5,225.7C168.3,227.5 168.9,227.1 169.6,227.1C170.3,227.1 170.9,226.4 171.7,225.7C172.5,225.0 173.7,222.8 174.4,223.0C175.1,223.2 175.3,224.3 175.8,227.1C176.3,229.9 176.8,235.4 177.5,240.0C178.2,244.6 179.1,252.9 180.0,254.9C180.9,256.9 181.9,253.0 182.8,252.1C183.7,251.2 184.8,249.3 185.6,249.3C186.4,249.3 186.8,250.3 187.5,252.0C188.2,253.7 189.1,257.4 189.7,259.7C190.3,262.0 190.5,262.4 191.1,266.0C191.7,269.6 192.5,279.3 193.2,281.0C193.9,282.7 194.6,276.8 195.3,276.1C196.0,275.4 196.7,276.2 197.4,276.8C198.1,277.4 198.7,281.1 199.4,279.6C200.1,278.1 200.8,272.1 201.5,267.8C202.2,263.5 202.9,256.9 203.6,253.9C204.3,250.9 205.0,249.5 205.7,249.7C206.4,249.9 207.1,253.0 207.8,255.3C208.5,257.6 209.2,259.9 209.9,263.6C210.6,267.3 211.2,273.8 211.9,277.5C212.6,281.2 213.3,284.9 214.0,285.8C214.7,286.7 215.4,284.9 216.1,283.0C216.8,281.1 217.5,276.7 218.2,274.7C218.9,272.7 219.5,272.5 220.3,271.2C221.1,270.0 222.1,267.9 223.0,267.1C223.9,266.3 224.8,266.8 225.8,266.4C226.9,266.0 228.4,265.5 229.3,265.0C230.2,264.5 230.7,263.0 231.4,263.6C232.1,264.2 232.9,267.4 233.5,268.5C234.1,269.6 234.2,270.2 234.9,269.9C235.6,269.5 236.6,267.7 237.6,266.4C238.6,265.1 240.0,262.9 241.1,262.2C242.2,261.5 243.0,261.7 243.9,262.2C244.8,262.7 245.8,263.4 246.7,265.0C247.6,266.6 248.7,272.0 249.4,271.9C250.1,271.8 250.2,266.8 250.8,264.3C251.4,261.8 252.1,259.4 252.9,256.7C253.7,254.0 254.8,250.9 255.7,248.3C256.6,245.7 257.3,242.2 258.0,241.1C258.7,240.0 259.3,240.9 260.1,241.8C260.9,242.7 261.6,245.4 262.6,246.2C263.6,247.1 265.1,246.1 266.1,246.9C267.2,247.7 268.2,250.9 268.9,251.1C269.5,251.3 269.6,247.2 270.0,248.3C270.4,249.5 270.8,252.4 271.4,258.0C272.0,263.6 272.8,273.7 273.5,281.7C274.2,289.7 274.8,300.6 275.6,306.0C276.4,311.4 277.5,313.6 278.3,314.0C279.1,314.4 279.7,309.8 280.4,308.5C281.1,307.2 281.7,306.5 282.5,306.4C283.3,306.3 284.4,307.8 285.3,307.8C286.2,307.8 287.1,304.9 288.0,306.4C288.9,307.9 290.1,312.8 290.8,316.8C291.5,320.9 291.7,325.8 292.2,330.7C292.7,335.6 293.0,340.6 293.6,346.0C294.2,351.4 294.9,360.2 295.7,363.3C296.5,366.4 297.7,365.4 298.5,364.7C299.3,364.0 299.9,361.0 300.6,359.2C301.3,357.4 301.9,354.3 302.6,353.6C303.3,352.9 304.0,355.0 304.7,355.0C305.4,355.0 306.1,353.4 306.8,353.6C307.5,353.8 308.2,355.2 308.9,356.4C309.6,357.6 310.4,358.8 311.0,360.6C311.6,362.5 311.9,365.0 312.4,367.5C312.9,370.0 313.4,373.8 313.8,375.8C314.1,377.8 314.1,379.5 314.4,379.3C314.7,379.1 315.2,375.9 315.8,374.4C316.4,372.9 317.2,371.2 317.9,370.3C318.6,369.4 319.3,368.7 320.0,368.9C320.7,369.1 321.5,371.6 322.1,371.7C322.7,371.8 323.0,371.0 323.5,369.6C324.0,368.2 324.4,365.5 324.9,363.3C325.4,361.1 325.7,358.5 326.2,356.4C326.8,354.3 327.4,352.2 328.3,350.8C329.2,349.4 330.6,348.3 331.8,348.1C333.0,347.9 334.3,349.5 335.3,349.5C336.3,349.5 337.0,348.1 338.0,348.1C339.0,348.1 340.6,349.3 341.5,349.5C342.4,349.7 342.8,350.3 343.6,349.4C344.4,348.5 345.6,346.2 346.4,343.9C347.2,341.6 347.9,337.9 348.5,335.6C349.1,333.3 349.4,330.4 349.9,330.0C350.4,329.6 350.7,331.8 351.2,333.5C351.8,335.2 352.6,338.1 353.3,340.4C354.0,342.7 354.8,345.5 355.4,347.4C356.0,349.3 356.2,350.6 356.8,351.6C357.4,352.6 358.2,353.7 358.9,353.6C359.6,353.5 360.3,351.0 361.0,350.9C361.7,350.8 362.3,352.2 363.1,352.9C363.9,353.6 364.8,355.9 365.8,355.0C366.8,354.1 368.2,347.5 369.3,347.4C370.4,347.3 371.3,352.8 372.1,354.3C372.9,355.8 373.5,357.3 374.2,356.4C374.9,355.5 375.7,351.9 376.2,348.8C376.8,345.7 377.1,341.9 377.6,337.7C378.1,333.5 378.5,328.9 379.0,323.8C379.5,318.7 379.9,311.7 380.4,307.1C380.9,302.5 381.3,297.0 381.8,296.0C382.3,295.0 382.6,299.6 383.2,301.0C383.8,302.4 384.5,303.3 385.3,304.3C386.1,305.3 387.2,306.4 388.0,307.1C388.8,307.8 389.4,306.0 390.0,308.5C390.6,311.0 391.1,318.9 391.7,322.3C392.3,325.7 393.3,328.9 393.9,328.9C394.5,328.9 394.8,324.6 395.3,322.3C395.8,320.0 396.3,316.5 396.8,315.0C397.3,313.5 397.6,313.0 398.2,313.5C398.8,314.0 399.7,316.7 400.4,317.9C401.1,319.1 401.8,319.7 402.6,320.8C403.5,321.9 404.8,324.5 405.5,324.5C406.2,324.5 406.4,322.4 407.0,320.8C407.6,319.2 408.6,315.4 409.2,315.0C409.8,314.6 410.1,317.4 410.6,318.6C411.1,319.8 411.6,321.7 412.1,322.3C412.6,322.9 413.4,321.6 413.8,322.0C414.1,322.4 414.2,322.8 414.4,325.0C414.6,327.2 414.7,332.0 415.0,335.0C415.3,338.0 415.8,341.2 416.2,343.1C416.7,345.0 417.1,344.2 417.5,346.2C417.9,348.3 418.3,354.8 418.8,355.6C419.2,356.4 419.5,353.1 420.0,351.2C420.5,349.4 421.4,346.7 421.9,344.4C422.4,342.1 422.8,340.7 423.1,337.5C423.4,334.3 423.5,332.1 423.8,325.0C424.0,317.9 424.3,302.2 424.5,294.6C424.7,287.1 424.8,285.8 425.2,279.7C425.6,273.6 426.1,263.2 426.6,257.9C427.1,252.6 427.4,249.9 428.1,247.7C428.8,245.5 430.1,245.3 431.0,244.7C431.9,244.1 432.5,244.3 433.2,244.0C433.9,243.7 434.7,242.5 435.4,242.6C436.1,242.7 436.8,243.6 437.5,244.7C438.2,245.8 438.8,248.2 439.7,249.1C440.6,250.0 442.0,250.1 442.9,249.9C443.8,249.7 444.4,245.9 445.1,247.7C445.8,249.5 446.6,257.8 447.3,260.8C448.0,263.8 448.8,265.4 449.5,265.9C450.2,266.4 450.8,264.8 451.7,263.7C452.6,262.6 453.6,260.3 454.6,259.3C455.6,258.3 456.5,257.8 457.5,257.9C458.5,258.0 459.5,259.4 460.4,260.1C461.2,260.8 461.9,262.1 462.6,262.2C463.3,262.3 464.1,261.3 464.8,260.8C465.5,260.3 466.4,256.9 467.0,259.3C467.6,261.7 467.9,268.8 468.3,275.0C468.7,281.2 468.9,290.3 469.2,296.7C469.5,303.1 469.6,308.6 470.0,313.3C470.4,318.0 471.0,322.5 471.7,325.0C472.4,327.5 473.5,328.3 474.2,328.3C474.9,328.3 475.2,326.4 475.8,325.0C476.4,323.6 476.9,321.2 477.5,320.0C478.1,318.8 478.6,317.6 479.2,317.5C479.8,317.4 480.2,319.8 480.8,319.2C481.4,318.6 481.9,315.4 482.5,314.2C483.1,312.9 483.8,313.2 484.2,311.7C484.6,310.2 484.7,306.9 485.0,305.0C485.3,303.1 485.5,298.1 485.8,300.0C486.1,301.9 486.3,312.9 486.7,316.7C487.1,320.4 487.8,322.1 488.3,322.5C488.9,322.9 489.4,319.6 490.0,319.2C490.6,318.8 491.1,318.5 491.7,320.0C492.2,321.5 492.8,325.0 493.3,328.3C493.9,331.6 494.4,336.1 495.0,340.0C495.6,343.9 496.3,351.1 496.7,351.7C497.1,352.2 497.2,348.3 497.5,343.3C497.8,338.3 498.0,328.9 498.3,321.7C498.6,314.5 498.9,305.8 499.2,300.0C499.4,294.2 499.5,292.8 499.8,287.0C500.1,281.2 500.9,274.1 501.2,265.2C501.6,256.2 502.0,239.8 502.2,233.3C502.4,226.8 502.2,228.8 502.6,226.3C503.1,223.9 504.0,218.6 504.7,218.8C505.4,218.9 506.2,225.2 506.8,227.1C507.3,229.0 507.3,230.5 507.8,230.2C508.3,229.8 509.2,228.7 509.9,225.0C510.6,221.3 511.3,215.6 512.0,208.3C512.7,201.0 513.3,189.2 514.0,181.2C514.7,173.3 515.4,166.8 516.1,160.4C516.8,154.0 517.5,147.1 518.1,142.7C518.7,138.3 518.9,135.8 519.5,133.9C520.1,132.0 521.3,131.3 521.7,131.0C522.1,130.7 521.6,131.3 522.1,131.9C522.6,132.5 523.9,133.9 524.9,134.7C525.9,135.5 527.3,136.1 528.3,136.8C529.3,137.5 530.4,139.5 531.1,138.9C531.8,138.3 532.0,134.7 532.5,133.3C533.0,131.9 533.3,130.9 533.9,130.6C534.5,130.3 535.3,130.9 536.0,131.2C536.7,131.6 537.2,132.0 538.0,132.6C538.8,133.2 539.9,133.4 540.8,134.7C541.7,136.0 542.7,138.2 543.6,140.3C544.5,142.4 545.5,146.2 546.0,147.3C546.5,148.5 546.0,146.0 546.4,147.2C546.8,148.4 547.6,153.0 548.2,154.6C548.8,156.2 549.5,156.5 549.9,156.9C550.3,157.3 550.1,157.5 550.4,156.8C550.7,156.1 551.5,153.7 551.9,152.8C552.3,152.0 552.2,152.1 552.6,151.7C553.0,151.3 553.8,150.2 554.1,150.2C554.5,150.1 554.3,150.7 554.7,151.4C555.1,152.1 555.8,153.0 556.2,154.6C556.7,156.2 557.1,159.4 557.5,161.1C557.9,162.8 558.2,164.0 558.4,164.8C558.6,165.6 558.5,164.8 558.9,166.0C559.3,167.2 560.0,171.2 560.6,172.1C561.2,173.0 562.1,172.0 562.8,171.4C563.5,170.8 564.4,168.8 565.0,168.4C565.6,168.0 565.9,168.3 566.5,169.2C567.1,170.0 567.9,172.1 568.6,173.5C569.3,174.9 570.2,175.5 570.8,177.9C571.4,180.3 571.7,185.7 572.3,188.1C572.9,190.5 573.8,192.0 574.5,192.5C575.2,193.0 576.0,191.0 576.7,191.0C577.4,191.0 578.3,191.9 578.9,192.5C579.5,193.1 579.8,195.7 580.3,194.7C580.8,193.7 581.3,189.4 581.8,186.7C582.3,184.0 582.7,179.8 583.2,178.6C583.7,177.3 584.3,178.8 585.0,179.2C585.7,179.6 586.6,180.7 587.2,181.3C587.8,181.9 588.0,183.0 588.6,182.8C589.2,182.6 590.2,181.0 590.8,179.9C591.4,178.8 591.8,175.3 592.3,176.2C592.8,177.0 593.2,182.6 593.7,185.0C594.2,187.4 594.7,189.4 595.2,190.8C595.7,192.2 596.2,192.5 596.7,193.7C597.2,194.9 597.6,195.9 598.1,198.1C598.6,200.3 598.9,204.0 599.5,206.7C600.1,209.3 601.1,211.1 601.7,214.0C602.3,216.9 602.6,220.5 603.1,224.2C603.6,227.8 604.2,232.5 604.6,235.9C605.0,239.3 604.9,240.9 605.3,244.6C605.7,248.2 606.3,256.3 606.8,257.8C607.3,259.3 607.7,255.1 608.2,253.4C608.7,251.7 609.1,250.0 609.7,247.6C610.3,245.2 611.3,241.1 611.9,238.8C612.5,236.5 612.8,234.4 613.4,233.7C614.0,233.0 614.9,235.0 615.5,234.4C616.1,233.8 616.4,230.1 617.0,230.0C617.6,229.9 618.5,233.0 619.2,233.7C619.9,234.4 620.7,234.5 621.4,234.4C622.1,234.3 623.0,234.7 623.6,233.0C624.2,231.3 624.6,226.9 625.0,224.2C625.4,221.5 625.3,218.6 625.8,216.9C626.3,215.2 627.1,214.5 628.0,214.0C628.9,213.5 630.0,213.8 631.0,214.0C632.0,214.2 632.8,215.7 633.8,215.4C634.8,215.2 635.6,213.3 636.7,212.5C637.8,211.7 639.3,211.0 640.4,210.5C641.5,210.0 642.3,209.8 643.3,209.5C644.3,209.2 645.1,208.8 646.2,209.0C647.3,209.2 648.8,209.8 649.8,210.5C650.8,211.2 651.5,211.7 652.0,213.1C652.5,214.5 652.3,217.2 652.7,218.9C653.1,220.6 653.6,222.4 654.2,223.3C654.8,224.2 655.6,223.7 656.3,224.5C657.0,225.3 657.5,227.1 658.3,228.3C659.0,229.5 660.0,230.8 660.8,231.7C661.6,232.6 662.6,233.6 663.0,234.0" fill="none" stroke="#5a5afa" stroke-width="0.95" stroke-linejoin="round"/><polygon points="290.0,348.8 353.4,346.8 353.4,348.2 358.8,345.0 353.2,342.4 353.2,343.7 290.0,347.6" fill="#fcac0a" stroke="#fcac0a" stroke-width="0.3" stroke-linejoin="round"/><polygon points="420.1,261.7 483.2,260.3 483.2,261.6 488.6,258.5 483.0,255.8 483.0,257.2 420.1,260.5" fill="#fcac0a" stroke="#fcac0a" stroke-width="0.3" stroke-linejoin="round"/><polygon points="594.6,219.2 646.9,220.0 646.9,221.8 652.9,218.4 646.9,215.0 646.9,216.8 594.6,218.0" fill="#fcac0a" stroke="#fcac0a" stroke-width="0.3" stroke-linejoin="round"/><polygon points="315.7,378.2 711.8,196.4 712.4,197.6 716.6,192.5 709.9,192.4 710.5,193.7 315.3,377.4" fill="#ff1010" stroke="#ff1010" stroke-width="0.3" stroke-linejoin="round"/><rect x="2.5" y="2.5" width="827" height="389" fill="none" stroke="#6a6ae4" stroke-width="1"/><rect x="2.5" y="391.5" width="827" height="74" fill="none" stroke="#6a6ae4" stroke-width="1"/><rect x="2" y="390.6" width="828" height="1.6" fill="#6a6ae4"/><polygon points="4.5,6.2 9.5,6.2 7,8.9" fill="#1a1a9a"/><text x="12.8" y="10.6" class="ax" textLength="43.2" lengthAdjust="spacingAndGlyphs">GBPUSD#,M15</text><text x="61" y="10.6" class="ax" textLength="105" lengthAdjust="spacingAndGlyphs">1.22415 1.22507 1.22402 1.22496</text><rect x="829.5" y="9.50" width="2" height="1" fill="#6a6ae4"/><text x="833.3" y="13.20" class="ax" textLength="24.2" lengthAdjust="spacingAndGlyphs">1.25360</text><rect x="829.5" y="35.94" width="2" height="1" fill="#6a6ae4"/><text x="833.3" y="39.64" class="ax" textLength="24.2" lengthAdjust="spacingAndGlyphs">1.24930</text><rect x="829.5" y="62.38" width="2" height="1" fill="#6a6ae4"/><text x="833.3" y="66.08" class="ax" textLength="24.2" lengthAdjust="spacingAndGlyphs">1.24500</text><rect x="829.5" y="88.82" width="2" height="1" fill="#6a6ae4"/><text x="833.3" y="92.52" class="ax" textLength="24.2" lengthAdjust="spacingAndGlyphs">1.24070</text><rect x="829.5" y="115.26" width="2" height="1" fill="#6a6ae4"/><text x="833.3" y="118.96" class="ax" textLength="24.2" lengthAdjust="spacingAndGlyphs">1.23640</text><rect x="829.5" y="141.70" width="2" height="1" fill="#6a6ae4"/><text x="833.3" y="145.40" class="ax" textLength="24.2" lengthAdjust="spacingAndGlyphs">1.23210</text><rect x="829.5" y="168.14" width="2" height="1" fill="#6a6ae4"/><text x="833.3" y="171.84" class="ax" textLength="24.2" lengthAdjust="spacingAndGlyphs">1.22780</text><rect x="829.5" y="194.58" width="2" height="1" fill="#6a6ae4"/><text x="833.3" y="198.28" class="ax" textLength="24.2" lengthAdjust="spacingAndGlyphs">1.22350</text><rect x="829.5" y="221.02" width="2" height="1" fill="#6a6ae4"/><text x="833.3" y="224.72" class="ax" textLength="24.2" lengthAdjust="spacingAndGlyphs">1.21920</text><rect x="829.5" y="247.46" width="2" height="1" fill="#6a6ae4"/><text x="833.3" y="251.16" class="ax" textLength="24.2" lengthAdjust="spacingAndGlyphs">1.21490</text><rect x="829.5" y="273.90" width="2" height="1" fill="#6a6ae4"/><text x="833.3" y="277.60" class="ax" textLength="24.2" lengthAdjust="spacingAndGlyphs">1.21060</text><rect x="829.5" y="300.34" width="2" height="1" fill="#6a6ae4"/><text x="833.3" y="304.04" class="ax" textLength="24.2" lengthAdjust="spacingAndGlyphs">1.20630</text><rect x="829.5" y="326.78" width="2" height="1" fill="#6a6ae4"/><text x="833.3" y="330.48" class="ax" textLength="24.2" lengthAdjust="spacingAndGlyphs">1.20200</text><rect x="829.5" y="353.22" width="2" height="1" fill="#6a6ae4"/><text x="833.3" y="356.92" class="ax" textLength="24.2" lengthAdjust="spacingAndGlyphs">1.19770</text><rect x="829.5" y="379.66" width="2" height="1" fill="#6a6ae4"/><text x="833.3" y="383.36" class="ax" textLength="24.2" lengthAdjust="spacingAndGlyphs">1.19340</text><rect x="830" y="182.7" width="31" height="7.6" fill="#0c0cc4"/><text x="833.3" y="189.6" class="ax" style="fill:#fff;stroke:#fff;stroke-width:0.15" textLength="24.2" lengthAdjust="spacingAndGlyphs">1.22496</text><line x1="3" y1="407.3" x2="829" y2="407.3" stroke="#b4b4b4" stroke-width="0.9" stroke-dasharray="1.3,2.3"/><line x1="3" y1="450.9" x2="829" y2="450.9" stroke="#b4b4b4" stroke-width="0.9" stroke-dasharray="1.3,2.3"/><text x="831.6" y="400.0" class="ax" textLength="11.2" lengthAdjust="spacingAndGlyphs">100</text><text x="831.6" y="409.7" class="ax" textLength="7.4" lengthAdjust="spacingAndGlyphs">80</text><text x="831.6" y="453.7" class="ax" textLength="7.4" lengthAdjust="spacingAndGlyphs">20</text><text x="831.6" y="464.6" class="ax" textLength="3.7" lengthAdjust="spacingAndGlyphs">0</text><polyline points="2.4,455.3 4.8,461.7 7.1,452.2 9.5,429.2 11.9,439.5 14.2,437.9 16.6,438.7 19.0,460.1 21.4,431.6 23.0,412.6 24.5,445.8 27.7,403.1 30.1,431.6 31.7,445.8 34.0,404.7 36.4,398.3 38.8,403.1 41.9,434.7 43.5,439.5 46.7,403.9 49.1,423.7 52.2,449.0 55.4,434.7 57.8,451.4 62.5,417.3 64.9,434.7 66.5,452.9 68.9,453.7 72.0,450.6 74.4,442.7 76.8,411.0 79.2,431.6 80.7,456.9 83.9,456.9 86.3,458.5 89.4,450.6 91.8,443.4 95.0,450.6 97.4,449.8 99.7,428.4 102.9,449.0 106.9,413.4 110.8,452.2 115.6,407.8 116.6,410.2 118.2,417.3 120.5,456.1 122.1,452.2 124.5,444.2 126.9,450.6 130.0,442.7 132.4,445.8 134.8,450.6 137.2,444.2 140.3,414.2 142.7,396.0 144.3,398.3 146.7,423.7 148.2,437.1 149.8,413.4 152.2,422.1 155.4,457.7 158.5,430.8 161.7,456.1 164.9,447.4 168.8,458.5 172.0,421.3 174.4,436.3 177.5,460.1 182.3,407.8 185.4,425.2 189.4,461.7 192.6,436.3 196.5,396.7 198.9,401.5 202.1,452.9 204.4,442.7 210.0,461.7 213.9,439.5 217.9,407.0 220.3,437.9 222.6,407.8 225.8,403.9 230.6,412.6 233.2,398.3 234.8,404.7 238.7,447.4 241.1,439.5 243.5,404.7 247.4,399.1 249.8,406.2 253.7,447.4 256.1,424.5 258.5,430.0 260.9,455.3 264.0,414.2 266.4,431.6 271.9,464.0 275.1,462.4 277.5,452.2 280.7,434.7 283.0,447.4 285.4,428.4 288.6,441.1 290.9,457.7 293.3,451.4 296.5,449.0 299.7,439.5 302.0,442.7 304.4,427.6 306.8,433.2 309.2,463.2 312.3,462.4 316.3,406.2 318.6,398.3 321.8,401.5 324.2,407.8 327.4,424.5 330.5,407.8 332.9,405.5 335.3,431.6 339.2,396.7 343.2,407.8 345.0,404.7 346.6,407.8 351.3,455.3 356.1,462.4 358.5,452.2 360.8,423.7 363.2,403.9 364.8,409.4 367.2,418.9 369.5,409.4 372.7,394.4 375.1,406.2 376.7,422.9 379.0,414.2 381.4,411.0 383.8,399.9 386.2,412.6 387.7,444.2 391.7,457.7 394.1,436.3 396.4,404.7 398.8,431.6 400.4,454.5 404.4,434.7 407.5,415.7 409.9,398.3 411.5,406.2 413.1,434.7 415.4,404.7 417.8,399.1 421.0,403.1 424.2,436.3 426.5,452.9 428.9,453.7 430.5,444.2 432.9,454.5 435.2,434.7 438.4,395.2 440.8,404.7 443.1,433.2 445.5,460.9 448.7,433.2 452.6,399.9 454.2,417.3 456.6,449.0 458.2,452.9 460.0,441.1 462.4,442.7 464.0,441.1 465.5,430.0 467.1,439.5 468.7,461.7 471.1,458.5 473.5,430.0 475.8,406.2 478.2,411.8 481.4,397.5 483.7,409.4 486.1,444.2 488.5,430.0 491.7,399.9 494.8,398.3 497.2,401.5 499.6,428.4 501.9,419.7 505.1,393.6 507.5,398.3 510.7,400.7 513.8,420.5 517.0,456.9 519.4,437.9 521.7,423.7 524.1,439.5 526.5,458.5 529.7,441.1 531.2,434.7 533.1,416.5 535.2,437.9 536.8,455.3 540.7,426.0 543.9,461.7 546.3,452.2 549.4,426.0 551.8,442.7 554.2,439.5 558.1,456.1 561.3,433.2 563.7,401.5 566.1,417.3 568.4,453.7 570.8,449.8 574.0,404.7 575.0,407.8 577.4,411.8 579.0,414.2 580.5,410.2 582.1,420.5 583.7,452.2 586.1,435.5 588.5,441.1 590.4,430.8 592.4,442.7 594.0,456.1 597.2,437.9 599.5,450.6 602.7,458.5 605.9,453.7 609.8,416.5 612.2,425.2 613.8,447.4 616.2,423.7 619.3,398.3 621.7,404.7 624.9,446.6 627.2,425.2 629.6,422.1 631.7,402.3 634.4,433.2 635.2,437.9 637.5,417.3 639.9,401.5 642.3,414.2 644.7,408.6 647.8,437.9 650.2,430.8 652.6,460.1 655.7,420.5 658.9,399.9 661.3,403.1" fill="none" stroke="#5ccac2" stroke-width="0.9" stroke-linejoin="round"/><polyline points="3.5,458.3 4.5,459.7 5.5,459.3 6.5,458.1 7.5,453.9 8.5,447.3 9.5,438.8 10.5,433.8 11.5,433.5 12.5,436.8 13.5,438.4 14.5,438.5 15.5,438.2 16.5,438.3 17.5,441.2 18.5,447.0 19.5,452.2 20.5,450.7 21.5,442.3 22.5,430.4 23.5,424.2 24.5,429.3 25.5,434.0 26.5,432.5 27.5,419.1 28.5,412.5 29.5,414.3 30.5,424.1 31.5,434.6 32.5,436.9 33.5,429.7 34.5,416.2 35.5,405.9 36.5,400.9 37.5,399.9 38.5,400.5 39.5,404.4 40.5,411.1 41.5,420.4 42.5,429.2 43.5,435.5 44.5,434.8 45.5,428.4 46.5,417.2 47.5,411.3 48.5,411.8 49.5,418.7 50.5,426.9 51.5,435.1 52.5,442.0 53.5,444.7 54.5,443.2 55.5,439.1 56.5,438.8 57.5,442.4 58.5,446.0 59.5,444.9 60.5,439.1 61.5,431.8 62.5,424.6 63.5,422.1 64.5,424.6 65.5,432.6 66.5,442.1 67.5,449.2 68.5,453.2 69.5,453.3 70.5,452.9 71.5,452.1 72.5,450.7 73.5,448.6 74.5,445.3 75.5,438.4 76.5,428.2 77.5,420.0 78.5,419.2 79.5,426.4 80.5,438.6 81.5,449.0 82.5,455.8 83.5,456.9 84.5,457.0 85.5,457.4 86.5,457.8 87.5,457.1 88.5,455.4 89.5,452.9 90.5,450.2 91.5,447.3 92.5,445.5 93.5,445.5 94.5,447.2 95.5,449.0 96.5,450.0 97.5,449.8 98.5,446.2 99.5,439.6 100.5,434.5 101.5,434.6 102.5,440.0 103.5,443.4 104.5,441.6 105.5,434.8 106.5,425.9 107.5,420.7 108.5,421.9 109.5,429.3 110.5,439.3 111.5,444.7 112.5,443.8 113.5,436.5 114.5,427.2 115.5,418.0 116.5,412.2 117.5,411.0 118.5,415.5 119.5,425.3 120.5,439.2 121.5,449.7 122.5,453.5 123.5,450.7 124.5,447.5 125.5,446.2 126.5,446.9 127.5,448.5 128.5,448.4 129.5,446.5 130.5,444.6 131.5,444.0 132.5,444.7 133.5,446.2 134.5,448.0 135.5,448.9 136.5,448.3 137.5,445.4 138.5,439.7 139.5,431.6 140.5,422.1 141.5,413.2 142.5,405.1 143.5,399.9 144.5,398.4 145.5,402.9 146.5,411.0 147.5,421.1 148.5,428.4 149.5,427.1 150.5,422.1 151.5,417.8 152.5,420.3 153.5,427.2 154.5,436.6 155.5,447.0 156.5,450.9 157.5,448.2 158.5,439.5 159.5,436.3 160.5,438.7 161.5,446.6 162.5,451.7 163.5,453.2 164.5,451.2 165.5,449.6 166.5,449.8 167.5,452.0 168.5,454.8 169.5,454.3 170.5,448.9 171.5,438.7 172.5,430.1 173.5,427.4 174.5,430.7 175.5,437.5 176.5,444.7 177.5,452.4 178.5,453.9 179.5,449.2 180.5,438.3 181.5,427.4 182.5,417.6 183.5,413.3 184.5,414.5 185.5,420.3 186.5,427.2 187.5,435.2 188.5,444.4 189.5,452.9 190.5,455.8 191.5,453.0 192.5,445.0 193.5,436.4 194.5,427.1 195.5,417.0 196.5,406.9 197.5,400.8 198.5,398.7 199.5,403.5 200.5,413.0 201.5,427.2 202.5,440.5 203.5,447.0 204.5,447.0 205.5,445.4 206.5,446.4 207.5,449.8 208.5,453.2 209.5,456.6 210.5,458.5 211.5,457.3 212.5,453.2 213.5,447.5 214.5,441.3 215.5,434.3 216.5,426.5 217.5,418.4 218.5,414.4 219.5,417.5 220.5,425.9 221.5,428.4 222.5,422.2 223.5,412.7 224.5,407.1 225.5,405.5 226.5,405.0 227.5,405.5 228.5,407.0 229.5,408.8 230.5,410.6 231.5,410.2 232.5,407.4 233.5,403.1 234.5,401.8 235.5,405.3 236.5,413.4 237.5,423.6 238.5,434.4 239.5,441.5 240.5,443.8 241.5,440.0 242.5,431.5 243.5,419.2 244.5,409.1 245.5,403.3 246.5,401.8 247.5,400.5 248.5,400.7 249.5,402.4 250.5,407.1 251.5,414.4 252.5,424.2 253.5,434.7 254.5,439.9 255.5,438.4 256.5,431.8 257.5,427.8 258.5,427.7 259.5,432.8 260.5,440.5 261.5,446.3 262.5,444.2 263.5,434.1 264.5,424.2 265.5,421.2 266.5,425.0 267.5,431.8 268.5,438.1 269.5,444.0 270.5,449.9 271.5,455.8 272.5,460.4 273.5,462.8 274.5,463.2 275.5,462.2 276.5,460.0 277.5,456.5 278.5,451.8 279.5,446.7 280.5,441.3 281.5,438.7 282.5,439.9 283.5,442.4 284.5,441.2 285.5,435.9 286.5,432.4 287.5,432.8 288.5,436.7 289.5,441.7 290.5,447.7 291.5,452.8 292.5,454.8 293.5,453.6 294.5,451.8 295.5,450.5 296.5,449.8 297.5,448.3 298.5,446.0 299.5,443.1 300.5,441.3 301.5,440.9 302.5,440.7 303.5,438.3 304.5,433.6 305.5,430.4 306.5,430.2 307.5,434.9 308.5,443.0 309.5,453.2 310.5,460.1 311.5,462.9 312.5,461.7 313.5,455.9 314.5,445.5 315.5,431.5 316.5,418.1 317.5,408.3 318.5,402.1 319.5,400.0 320.5,399.3 321.5,400.2 322.5,401.6 323.5,403.5 324.5,406.2 325.5,410.0 326.5,414.6 327.5,419.4 328.5,420.8 329.5,418.6 330.5,413.2 331.5,409.3 332.5,406.8 333.5,408.2 334.5,413.6 335.5,421.6 336.5,424.5 337.5,420.9 338.5,411.9 339.5,404.1 340.5,400.3 341.5,400.3 342.5,403.1 343.5,405.4 344.5,406.2 345.5,406.2 346.5,406.3 347.5,410.1 348.5,417.2 349.5,427.0 350.5,437.1 351.5,446.6 352.5,453.3 353.5,457.1 354.5,458.6 355.5,460.0 356.5,460.7 357.5,459.6 358.5,456.5 359.5,449.5 360.5,439.8 361.5,428.4 362.5,418.3 363.5,410.8 364.5,407.7 365.5,408.5 366.5,412.2 367.5,415.3 368.5,415.8 369.5,413.5 370.5,409.2 371.5,404.7 372.5,400.0 373.5,397.9 374.5,399.0 375.5,404.0 376.5,411.5 377.5,417.0 378.5,418.9 379.5,416.5 380.5,413.9 381.5,412.1 382.5,409.5 383.5,405.9 384.5,403.6 385.5,404.6 386.5,410.5 387.5,422.6 388.5,435.3 389.5,445.7 390.5,450.3 391.5,453.7 392.5,453.7 393.5,449.7 394.5,441.0 395.5,429.8 396.5,417.9 397.5,413.3 398.5,417.0 399.5,429.0 400.5,441.3 401.5,448.2 402.5,449.1 403.5,444.1 404.5,439.1 405.5,433.7 406.5,428.0 407.5,421.8 408.5,415.3 409.5,408.4 410.5,403.6 411.5,402.9 412.5,410.5 413.5,419.9 414.5,423.3 415.5,416.8 416.5,407.7 417.5,402.1 418.5,400.6 419.5,400.3 420.5,401.2 421.5,404.0 422.5,409.8 423.5,418.7 424.5,428.7 425.5,437.7 426.5,445.7 427.5,450.6 428.5,453.2 429.5,452.3 430.5,449.3 431.5,447.6 432.5,448.5 433.5,450.2 434.5,447.6 435.5,440.4 436.5,430.1 437.5,418.7 438.5,406.9 439.5,400.5 440.5,399.6 441.5,405.5 442.5,414.2 443.5,425.7 444.5,437.6 445.5,449.4 446.5,454.2 447.5,452.2 448.5,443.6 449.5,435.0 450.5,426.4 451.5,417.8 452.5,409.3 453.5,406.6 454.5,410.6 455.5,421.8 456.5,434.5 457.5,444.4 458.5,449.9 459.5,448.8 460.5,445.6 461.5,442.6 462.5,442.0 463.5,442.1 464.5,440.5 465.5,436.3 466.5,434.4 467.5,437.0 468.5,446.6 469.5,454.9 470.5,459.6 471.5,457.9 472.5,451.6 473.5,441.9 474.5,430.5 475.5,419.7 476.5,412.3 477.5,409.1 478.5,409.5 479.5,408.9 480.5,406.0 481.5,401.8 482.5,400.9 483.5,403.2 484.5,410.9 485.5,421.6 486.5,432.8 487.5,437.8 488.5,435.9 489.5,428.8 490.5,420.6 491.5,411.2 492.5,404.2 493.5,400.1 494.5,399.0 495.5,398.9 496.5,399.4 497.5,401.6 498.5,407.2 499.5,416.1 500.5,422.8 501.5,424.5 502.5,420.3 503.5,414.2 504.5,406.7 505.5,399.8 506.5,396.4 507.5,396.3 508.5,397.9 509.5,399.1 510.5,399.8 511.5,402.1 512.5,406.2 513.5,412.2 514.5,419.7 515.5,429.0 516.5,439.8 517.5,448.0 518.5,449.7 519.5,445.1 520.5,437.8 521.5,431.1 522.5,428.3 523.5,429.8 524.5,435.7 525.5,442.9 526.5,450.6 527.5,454.0 528.5,453.1 529.5,447.6 530.5,442.5 531.5,437.2 532.5,430.6 533.5,424.9 534.5,424.5 535.5,430.8 536.5,441.3 537.5,447.7 538.5,448.2 539.5,442.5 540.5,435.0 541.5,432.5 542.5,436.2 543.5,446.1 544.5,454.2 545.5,457.3 546.5,455.1 547.5,449.3 548.5,442.1 549.5,434.1 550.5,431.3 551.5,433.7 552.5,438.7 553.5,440.9 554.5,441.0 555.5,442.1 556.5,445.0 557.5,449.3 558.5,452.0 559.5,451.0 560.5,446.1 561.5,438.5 562.5,428.9 563.5,417.3 564.5,409.4 565.5,408.1 566.5,414.6 567.5,425.5 568.5,438.9 569.5,448.3 570.5,451.9 571.5,447.4 572.5,438.7 573.5,425.8 574.5,414.6 575.5,408.9 576.5,408.4 577.5,410.3 578.5,411.9 579.5,412.8 580.5,412.2 581.5,413.2 582.5,418.4 583.5,431.1 584.5,441.1 585.5,444.8 586.5,440.9 587.5,438.3 588.5,438.8 589.5,438.5 590.5,436.1 591.5,434.8 592.5,437.4 593.5,444.3 594.5,449.6 595.5,450.9 596.5,447.6 597.5,443.0 598.5,442.2 599.5,445.1 600.5,449.6 601.5,453.1 602.5,455.5 603.5,456.9 604.5,457.0 605.5,455.8 606.5,452.7 607.5,446.9 608.5,438.4 609.5,428.9 610.5,422.4 611.5,420.4 612.5,423.7 613.5,431.8 614.5,437.7 615.5,438.1 616.5,430.8 617.5,421.6 618.5,413.0 619.5,405.6 620.5,401.7 621.5,401.5 622.5,406.9 623.5,415.9 624.5,428.3 625.5,436.9 626.5,438.0 627.5,432.5 628.5,426.7 629.5,423.5 630.5,419.8 631.5,413.3 632.5,409.8 633.5,412.8 634.5,422.7 635.5,430.6 636.5,431.8 637.5,426.3 638.5,418.1 639.5,410.7 640.5,406.5 641.5,406.3 642.5,409.5 643.5,411.7 644.5,411.4 645.5,412.2 646.5,416.9 647.5,425.6 648.5,432.2 649.5,434.6 650.5,434.4 651.5,438.0 652.5,446.7 653.5,451.4 654.5,447.8 655.5,435.8 656.5,424.7 657.5,415.8 658.5,408.9 659.5,404.0 660.5,401.7 661.5,401.9" fill="none" stroke="#f45a5a" stroke-width="1.1" stroke-dasharray="1.1,1.5"/><text x="5.1" y="400.6" class="ax" style="font-size:7.6px" textLength="91.8" lengthAdjust="spacingAndGlyphs">Stoch(5,3,3) 83.5903 84.2122</text><rect x="2.00" y="465.5" width="1" height="2" fill="#6a6ae4"/><text x="2.50" y="474.8" class="ax" textLength="33" lengthAdjust="spacingAndGlyphs">9 Jun 2022</text><rect x="53.92" y="465.5" width="1" height="2" fill="#6a6ae4"/><text x="54.42" y="474.8" class="ax" textLength="38.5" lengthAdjust="spacingAndGlyphs">10 Jun 10:15</text><rect x="105.84" y="465.5" width="1" height="2" fill="#6a6ae4"/><text x="106.34" y="474.8" class="ax" textLength="38.5" lengthAdjust="spacingAndGlyphs">10 Jun 22:15</text><rect x="157.76" y="465.5" width="1" height="2" fill="#6a6ae4"/><text x="158.26" y="474.8" class="ax" textLength="38.5" lengthAdjust="spacingAndGlyphs">13 Jun 10:15</text><rect x="209.68" y="465.5" width="1" height="2" fill="#6a6ae4"/><text x="210.18" y="474.8" class="ax" textLength="38.5" lengthAdjust="spacingAndGlyphs">13 Jun 22:15</text><rect x="261.60" y="465.5" width="1" height="2" fill="#6a6ae4"/><text x="262.10" y="474.8" class="ax" textLength="38.5" lengthAdjust="spacingAndGlyphs">14 Jun 10:15</text><rect x="313.52" y="465.5" width="1" height="2" fill="#6a6ae4"/><text x="314.02" y="474.8" class="ax" textLength="38.5" lengthAdjust="spacingAndGlyphs">14 Jun 22:15</text><rect x="365.44" y="465.5" width="1" height="2" fill="#6a6ae4"/><text x="365.94" y="474.8" class="ax" textLength="38.5" lengthAdjust="spacingAndGlyphs">15 Jun 10:15</text><rect x="417.36" y="465.5" width="1" height="2" fill="#6a6ae4"/><text x="417.86" y="474.8" class="ax" textLength="38.5" lengthAdjust="spacingAndGlyphs">15 Jun 22:15</text><rect x="469.28" y="465.5" width="1" height="2" fill="#6a6ae4"/><text x="469.78" y="474.8" class="ax" textLength="38.5" lengthAdjust="spacingAndGlyphs">16 Jun 10:15</text><rect x="521.20" y="465.5" width="1" height="2" fill="#6a6ae4"/><text x="521.70" y="474.8" class="ax" textLength="38.5" lengthAdjust="spacingAndGlyphs">16 Jun 22:15</text><rect x="573.12" y="465.5" width="1" height="2" fill="#6a6ae4"/><text x="573.62" y="474.8" class="ax" textLength="38.5" lengthAdjust="spacingAndGlyphs">17 Jun 10:15</text><rect x="625.04" y="465.5" width="1" height="2" fill="#6a6ae4"/><text x="625.54" y="474.8" class="ax" textLength="38.5" lengthAdjust="spacingAndGlyphs">17 Jun 22:15</text><text x="555.2" y="111.3" font-family="Liberation Sans, Noto Sans CJK TC, sans-serif" font-size="14" fill="#404040" stroke="#404040" stroke-width="0.18" textLength="130" lengthAdjust="spacingAndGlyphs">壓力 1.2310至1.2332</text><text x="657.6" y="244.9" font-family="Liberation Sans, Noto Sans CJK TC, sans-serif" font-size="14" fill="#404040" stroke="#404040" stroke-width="0.18" textLength="130.4" lengthAdjust="spacingAndGlyphs">支撐 1.2182至1.2200</text><text x="6.2" y="385.8" font-family="Liberation Sans, Noto Sans CJK TC, sans-serif" font-size="14" fill="#404040" stroke="#404040" stroke-width="0.18" textLength="192.4" lengthAdjust="spacingAndGlyphs">2022年6月20日 鎊美15分鐘K線</text></svg></body></html>
